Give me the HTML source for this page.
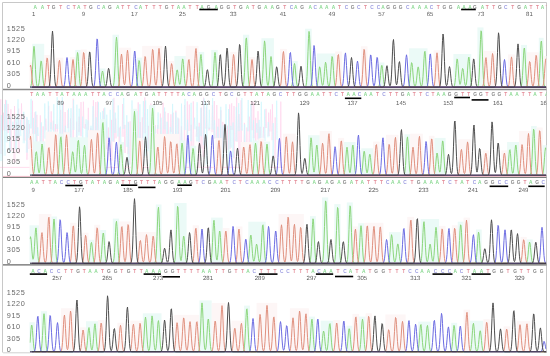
<!DOCTYPE html><html><head><meta charset="utf-8"><style>html,body{margin:0;padding:0;background:#fff;}svg{display:block;will-change:transform}</style></head><body>
<svg width="550" height="356" viewBox="0 0 550 356">
<rect width="550" height="356" fill="#fff"/>
<defs><clipPath id="tc"><rect x="29.5" y="0" width="517" height="356"/></clipPath></defs>
<g fill="none" stroke-width="1">
<path d="M2.5 2.5 H546.5 V353 M2.5 2.5 V352.5" stroke="#c8c8c8"/>
<path d="M3 89.6 H546.5" stroke="#8a8a8a" stroke-width="1.5"/>
<path d="M3 177.3 H546.5" stroke="#7a807c" stroke-width="1.2"/>
<path d="M3 264.9 H546.5" stroke="#686868" stroke-width="1.4"/>
<path d="M3 352.8 H30" stroke="#d0d0d0" stroke-width="1"/>
</g>
<g font-family="Liberation Sans" font-size="7.3" letter-spacing="0.6" fill="#6a6a6a" opacity="0.999">
<text x="6.8" y="87.60">0</text>
<text x="6.8" y="76.20">305</text>
<text x="6.8" y="64.80">610</text>
<text x="6.8" y="53.40">915</text>
<text x="6.8" y="42.00">1220</text>
<text x="6.8" y="30.60">1525</text>
</g>
<g clip-path="url(#tc)">
<rect x="27.5" y="62.5" width="4.8" height="24.6" fill="#fdf6f6"/>
<rect x="32.2" y="43.8" width="12.0" height="43.3" fill="#ebfaf7"/>
<rect x="44.2" y="55.0" width="5.6" height="32.1" fill="#fdf6f6"/>
<rect x="56.0" y="57.7" width="7.2" height="29.4" fill="#fdf6f6"/>
<rect x="70.0" y="57.0" width="5.3" height="30.1" fill="#fdf6f6"/>
<rect x="75.3" y="49.9" width="5.4" height="37.2" fill="#ebfaf7"/>
<rect x="80.7" y="49.5" width="6.0" height="37.6" fill="#fdf6f6"/>
<rect x="99.8" y="68.5" width="5.7" height="18.6" fill="#ebfaf7"/>
<rect x="112.5" y="34.7" width="6.5" height="52.4" fill="#ebfaf7"/>
<rect x="119.0" y="47.7" width="12.1" height="39.4" fill="#fdf6f6"/>
<rect x="136.9" y="57.6" width="5.2" height="29.5" fill="#ebfaf7"/>
<rect x="142.2" y="45.9" width="20.1" height="41.2" fill="#fdf6f6"/>
<rect x="168.6" y="61.0" width="5.8" height="26.1" fill="#fdf6f6"/>
<rect x="174.4" y="56.0" width="11.4" height="31.1" fill="#ebfaf7"/>
<rect x="185.8" y="45.9" width="12.7" height="41.2" fill="#fdf6f6"/>
<rect x="198.4" y="51.9" width="5.8" height="35.2" fill="#ebfaf7"/>
<rect x="211.2" y="49.9" width="6.5" height="37.2" fill="#ebfaf7"/>
<rect x="230.3" y="51.9" width="6.3" height="35.2" fill="#fdf6f6"/>
<rect x="243.0" y="34.7" width="6.2" height="52.4" fill="#ebfaf7"/>
<rect x="249.2" y="57.0" width="5.9" height="30.1" fill="#fdf6f6"/>
<rect x="261.4" y="38.2" width="12.5" height="48.9" fill="#ebfaf7"/>
<rect x="280.0" y="48.9" width="6.8" height="38.2" fill="#fdf6f6"/>
<rect x="292.4" y="61.0" width="5.4" height="26.1" fill="#ebfaf7"/>
<rect x="305.1" y="28.7" width="6.6" height="58.4" fill="#ebfaf7"/>
<rect x="316.9" y="53.5" width="18.4" height="33.6" fill="#ebfaf7"/>
<rect x="335.2" y="51.5" width="6.6" height="35.6" fill="#fdf6f6"/>
<rect x="360.9" y="46.3" width="6.6" height="40.8" fill="#fdf6f6"/>
<rect x="379.5" y="62.5" width="4.9" height="24.6" fill="#ebfaf7"/>
<rect x="409.1" y="48.3" width="18.4" height="38.8" fill="#ebfaf7"/>
<rect x="433.6" y="50.3" width="6.4" height="36.8" fill="#fdf6f6"/>
<rect x="453.4" y="54.0" width="17.9" height="33.1" fill="#ebfaf7"/>
<rect x="477.4" y="27.4" width="6.1" height="59.7" fill="#ebfaf7"/>
<rect x="483.5" y="50.9" width="12.1" height="36.2" fill="#fdf6f6"/>
<rect x="508.0" y="54.4" width="6.8" height="32.7" fill="#fdf6f6"/>
<rect x="521.1" y="44.9" width="5.9" height="42.2" fill="#ebfaf7"/>
<rect x="527.0" y="52.3" width="11.8" height="34.8" fill="#fdf6f6"/>
<rect x="538.8" y="37.8" width="4.8" height="49.3" fill="#ebfaf7"/>
<rect x="543.6" y="56.0" width="5.3" height="31.1" fill="#fdf6f6"/>
</g>
<g clip-path="url(#tc)" fill="none" stroke-width="1" stroke-linejoin="round">
<path d="M30.0 87.0L30.5 86.7L31.0 85.7L31.5 83.3L32.0 78.1L32.5 69.7L33.0 59.1L33.5 50.0L34.0 46.3L34.5 50.0L35.0 59.1L35.5 69.7L36.0 78.1L36.5 83.3L37.0 85.7L37.5 86.6L38.0 86.4L38.5 85.4L39.0 82.8L39.5 78.2L40.0 71.7L40.5 65.0L41.0 60.9L41.5 61.4L42.0 66.2L42.5 73.1L43.0 79.3L43.5 83.5L44.0 85.7L44.5 86.7L45.0 87.0L45.5 87.1L73.0 87.1L73.5 87.0L74.0 86.8L74.5 86.2L75.0 84.4L75.5 80.6L76.0 73.9L76.5 65.1L77.0 56.8L77.5 52.5L78.0 54.4L78.5 61.6L79.0 70.6L79.5 78.2L80.0 83.2L80.5 85.7L81.0 86.7L81.5 87.0L82.0 87.1L98.5 87.1L99.0 86.9L99.5 86.6L100.0 85.6L100.5 83.6L101.0 80.2L101.5 76.1L102.0 72.5L102.5 71.0L103.0 72.5L103.5 76.1L104.0 80.2L104.5 83.6L105.0 85.6L105.5 86.6L106.0 86.9L106.5 87.1L112.0 87.1L112.5 87.0L113.0 86.6L113.5 85.4L114.0 82.4L114.5 76.1L115.0 65.8L115.5 52.9L116.0 41.7L116.5 37.2L117.0 41.7L117.5 52.9L118.0 65.8L118.5 76.1L119.0 82.4L119.5 85.4L120.0 86.6L120.5 87.0L121.0 87.1L135.0 87.1L135.5 86.9L136.0 86.5L136.5 85.4L137.0 82.8L137.5 78.0L138.0 71.4L138.5 64.7L139.0 60.5L139.5 61.0L140.0 65.9L140.5 72.8L141.0 79.2L141.5 83.4L142.0 85.7L142.5 86.7L143.0 87.0L143.5 87.1L173.0 87.1L173.5 87.0L174.0 86.7L174.5 86.0L175.0 84.3L175.5 81.2L176.0 76.9L176.5 72.6L177.0 69.9L177.5 70.2L178.0 73.4L178.5 77.8L179.0 81.8L179.5 84.1L180.0 84.4L180.5 82.2L181.0 77.4L181.5 70.5L182.0 63.3L182.5 58.9L183.0 59.5L183.5 64.6L184.0 72.0L184.5 78.7L185.0 83.2L185.5 85.6L186.0 86.6L186.5 87.0L187.0 87.1L196.5 87.1L197.0 87.0L197.5 86.7L198.0 85.7L198.5 83.4L199.0 78.7L199.5 71.5L200.0 63.0L200.5 56.3L201.0 54.5L201.5 58.6L202.0 66.4L202.5 74.7L203.0 80.9L203.5 84.6L204.0 86.2L204.5 86.9L205.0 87.0L205.5 87.1L210.5 87.1L211.0 87.0L211.5 86.8L212.0 85.9L212.5 83.8L213.0 79.5L213.5 72.3L214.0 63.3L214.5 55.5L215.0 52.4L215.5 55.5L216.0 63.3L216.5 72.3L217.0 79.5L217.5 83.8L218.0 85.9L218.5 86.8L219.0 87.0L219.5 87.1L242.0 87.1L242.5 86.9L243.0 86.3L243.5 84.5L244.0 80.3L244.5 72.4L245.0 60.8L245.5 47.9L246.0 38.9L246.5 37.9L247.0 45.6L247.5 58.1L248.0 70.4L248.5 79.1L249.0 83.9L249.5 86.1L250.0 86.8L250.5 87.0L251.0 87.1L260.0 87.1L260.5 87.0L261.0 86.8L261.5 85.9L262.0 83.5L262.5 78.3L263.0 69.5L263.5 57.7L264.0 46.6L264.5 40.9L265.0 43.4L265.5 52.9L266.0 65.0L266.5 75.2L267.0 81.8L267.5 84.9L268.0 85.5L268.5 84.1L269.0 80.3L269.5 74.0L270.0 66.1L270.5 59.3L271.0 56.5L271.5 59.3L272.0 66.1L272.5 74.0L273.0 80.4L273.5 84.2L274.0 86.1L274.5 86.8L275.0 87.0L275.5 87.1L290.0 87.1L290.5 87.0L291.0 86.9L291.5 86.3L292.0 84.9L292.5 81.9L293.0 77.0L293.5 70.9L294.0 65.6L294.5 63.5L295.0 65.6L295.5 70.9L296.0 77.0L296.5 81.9L297.0 84.9L297.5 86.3L298.0 86.9L298.5 87.0L299.0 87.1L304.5 87.1L305.0 87.0L305.5 86.7L306.0 85.6L306.5 82.8L307.0 76.5L307.5 65.9L308.0 51.7L308.5 38.3L309.0 31.4L309.5 34.5L310.0 45.9L310.5 60.5L311.0 72.8L311.5 80.8L312.0 84.8L312.5 86.4L313.0 86.9L313.5 87.1L315.5 87.1L316.0 87.0L316.5 86.7L317.0 85.8L317.5 83.8L318.0 80.2L318.5 75.2L319.0 70.1L319.5 66.9L320.0 67.3L320.5 71.0L321.0 76.3L321.5 81.0L322.0 84.1L322.5 85.4L323.0 84.8L323.5 82.3L324.0 77.6L324.5 71.3L325.0 65.3L325.5 62.2L326.0 63.6L326.5 68.7L327.0 75.2L327.5 80.7L328.0 84.2L328.5 85.9L329.0 86.1L329.5 85.0L330.0 82.1L330.5 76.7L331.0 69.1L331.5 61.3L332.0 56.5L332.5 57.0L333.0 62.7L333.5 70.7L334.0 78.0L334.5 82.9L335.0 85.5L335.5 86.6L336.0 87.0L336.5 87.1L377.5 87.1L378.0 87.0L378.5 86.7L379.0 86.0L379.5 84.1L380.0 80.6L380.5 75.4L381.0 69.7L381.5 65.7L382.0 65.3L382.5 68.7L383.0 74.3L383.5 79.7L384.0 83.6L384.5 85.7L385.0 86.6L385.5 87.0L386.0 87.1L407.5 87.1L408.0 87.0L408.5 86.6L409.0 85.5L409.5 83.1L410.0 78.8L410.5 72.7L411.0 66.5L411.5 62.7L412.0 63.1L412.5 67.6L413.0 74.0L413.5 79.8L414.0 83.7L414.5 85.7L415.0 86.3L415.5 85.7L416.0 83.8L416.5 80.2L417.0 75.2L417.5 70.1L418.0 66.9L418.5 67.3L419.0 71.0L419.5 76.3L420.0 81.1L420.5 84.3L421.0 85.9L421.5 86.2L422.0 85.1L422.5 82.2L423.0 76.4L423.5 67.9L424.0 58.6L424.5 52.0L425.0 51.3L425.5 56.9L426.0 66.0L426.5 74.9L427.0 81.3L427.5 84.8L428.0 86.3L428.5 86.9L429.0 87.1L453.0 87.1L453.5 86.9L454.0 86.5L454.5 85.3L455.0 82.5L455.5 77.5L456.0 70.5L456.5 63.3L457.0 58.9L457.5 59.5L458.0 64.6L458.5 72.0L459.0 78.6L459.5 82.8L460.0 84.4L460.5 83.6L461.0 80.6L461.5 76.1L462.0 71.4L462.5 68.5L463.0 68.8L463.5 72.3L464.0 77.1L464.5 81.5L465.0 84.4L465.5 85.6L466.0 85.2L466.5 82.9L467.0 78.1L467.5 70.9L468.0 63.1L468.5 57.5L469.0 57.0L469.5 61.7L470.0 69.3L470.5 76.8L471.0 82.2L471.5 85.2L472.0 86.5L472.5 86.9L473.0 87.1L476.5 87.1L477.0 87.0L477.5 86.8L478.0 85.9L478.5 83.5L479.0 77.9L479.5 67.9L480.0 53.9L480.5 39.6L481.0 30.8L481.5 31.8L482.0 42.2L482.5 56.9L483.0 70.3L483.5 79.4L484.0 84.1L484.5 86.2L485.0 86.9L485.5 87.0L486.0 87.1L520.0 87.1L520.5 86.9L521.0 86.5L521.5 85.1L522.0 81.7L522.5 75.4L523.0 66.1L523.5 55.9L524.0 48.7L524.5 48.0L525.0 54.1L525.5 64.1L526.0 73.8L526.5 80.7L527.0 84.6L527.5 86.3L528.0 86.9L528.5 87.0L529.0 87.1L537.0 87.1L537.5 86.9L538.0 86.3L538.5 84.7L539.0 80.8L539.5 73.4L540.0 62.4L540.5 50.4L541.0 41.9L541.5 41.0L542.0 48.2L542.5 59.9L543.0 71.4L543.5 79.6L544.0 84.1L544.5 86.1L545.0 86.8L545.5 87.0L546.0 87.1" stroke="#8cd67c"/>
<path d="M30.0 67.0L30.5 65.0L31.0 67.0L31.5 72.0L32.0 77.7L32.5 82.2L33.0 85.0L33.5 86.4L34.0 86.9L34.5 87.0L35.0 87.1L43.0 87.1L43.5 86.9L44.0 86.5L44.5 85.2L45.0 82.4L45.5 77.2L46.0 69.9L46.5 62.5L47.0 57.9L47.5 58.5L48.0 63.9L48.5 71.5L49.0 78.4L49.5 83.1L50.0 85.6L50.5 86.6L51.0 87.0L51.5 87.1L55.0 87.1L55.5 87.0L56.0 86.8L56.5 86.0L57.0 84.1L57.5 80.2L58.0 74.3L58.5 67.3L59.0 61.8L59.5 60.3L60.0 63.6L60.5 70.1L61.0 76.9L61.5 82.0L62.0 85.0L62.5 86.4L63.0 86.9L63.5 87.1L68.5 87.1L69.0 87.0L69.5 86.8L70.0 86.2L70.5 84.5L71.0 81.0L71.5 75.3L72.0 68.2L72.5 62.0L73.0 59.5L73.5 62.0L74.0 68.2L74.5 75.3L75.0 81.0L75.5 84.5L76.0 86.2L76.5 86.8L77.0 87.0L77.5 87.1L79.5 87.1L80.0 86.9L80.5 86.4L81.0 84.9L81.5 81.5L82.0 75.3L82.5 66.7L83.0 57.9L83.5 52.5L84.0 53.2L84.5 59.5L85.0 68.6L85.5 76.8L86.0 82.3L86.5 85.3L87.0 86.5L87.5 87.0L88.0 87.1L117.0 87.1L117.5 87.0L118.0 86.8L118.5 86.0L119.0 84.0L119.5 79.8L120.0 73.0L120.5 64.4L121.0 57.0L121.5 54.0L122.0 57.0L122.5 64.4L123.0 72.9L123.5 79.7L124.0 83.6L124.5 84.8L125.0 83.3L125.5 78.9L126.0 71.3L126.5 61.8L127.0 53.5L127.5 50.2L128.0 53.5L128.5 61.8L129.0 71.3L129.5 79.0L130.0 83.6L130.5 85.9L131.0 86.7L131.5 87.0L132.0 87.1L141.0 87.1L141.5 86.9L142.0 86.5L142.5 85.1L143.0 82.1L143.5 76.7L144.0 69.1L144.5 61.3L145.0 56.5L145.5 57.0L146.0 62.7L146.5 70.7L147.0 78.0L147.5 82.9L148.0 85.5L148.5 86.5L149.0 86.8L149.5 86.3L150.0 84.7L150.5 81.0L151.0 74.3L151.5 64.9L152.0 55.3L152.5 49.4L153.0 50.1L153.5 57.0L154.0 66.9L154.5 75.8L155.0 81.8L155.5 84.7L156.0 85.2L156.5 83.3L157.0 78.5L157.5 70.6L158.0 60.6L158.5 51.9L159.0 48.4L159.5 51.9L160.0 60.6L160.5 70.6L161.0 78.6L161.5 83.5L162.0 85.8L162.5 86.7L163.0 87.0L163.5 87.1L167.5 87.1L168.0 86.9L168.5 86.5L169.0 85.3L169.5 82.6L170.0 78.1L170.5 72.2L171.0 66.5L171.5 63.6L172.0 64.9L172.5 69.7L173.0 75.9L173.5 81.1L174.0 84.4L174.5 86.1L175.0 86.8L175.5 87.0L176.0 87.1L184.5 87.1L185.0 87.0L185.5 86.6L186.0 85.7L186.5 83.3L187.0 78.9L187.5 72.3L188.0 65.1L188.5 60.0L189.0 59.5L189.5 63.8L190.0 70.9L190.5 77.7L191.0 82.6L191.5 85.3L192.0 86.4L192.5 86.5L193.0 85.5L193.5 82.7L194.0 77.2L194.5 68.7L195.0 58.6L195.5 50.7L196.0 48.5L196.5 53.3L197.0 62.6L197.5 72.4L198.0 79.8L198.5 84.1L199.0 86.1L199.5 86.8L200.0 87.0L200.5 87.1L229.0 87.1L229.5 87.0L230.0 86.9L230.5 86.2L231.0 84.6L231.5 80.9L232.0 74.7L232.5 66.4L233.0 58.6L233.5 54.5L234.0 56.3L234.5 63.0L235.0 71.5L235.5 78.7L236.0 83.4L236.5 85.7L237.0 86.7L237.5 87.0L238.0 87.1L247.5 87.1L248.0 87.0L248.5 86.8L249.0 86.2L249.5 84.5L250.0 81.0L250.5 75.3L251.0 68.2L251.5 62.0L252.0 59.5L252.5 62.0L253.0 68.2L253.5 75.3L254.0 81.0L254.5 84.5L255.0 86.2L255.5 86.8L256.0 87.0L256.5 87.1L279.0 87.1L279.5 87.0L280.0 86.6L280.5 85.6L281.0 83.1L281.5 78.0L282.0 70.1L282.5 60.8L283.0 53.5L283.5 51.5L284.0 55.9L284.5 64.5L285.0 73.5L285.5 80.4L286.0 84.3L286.5 86.2L287.0 86.8L287.5 87.0L288.0 87.1L334.0 87.1L334.5 87.0L335.0 86.6L335.5 85.4L336.0 82.6L336.5 77.4L337.0 69.6L337.5 61.1L338.0 55.1L338.5 54.5L339.0 59.6L339.5 67.9L340.0 76.0L340.5 81.8L341.0 85.0L341.5 86.4L342.0 86.9L342.5 87.1L360.0 87.1L360.5 86.9L361.0 86.3L361.5 84.7L362.0 81.0L362.5 74.3L363.0 64.9L363.5 55.3L364.0 49.4L364.5 50.1L365.0 57.0L365.5 66.9L366.0 75.8L366.5 81.9L367.0 85.1L367.5 86.5L368.0 86.9L368.5 87.1L432.5 87.1L433.0 87.0L433.5 86.8L434.0 86.0L434.5 83.9L435.0 79.5L435.5 72.4L436.0 63.6L436.5 55.9L437.0 52.8L437.5 55.9L438.0 63.6L438.5 72.4L439.0 79.5L439.5 83.9L440.0 86.0L440.5 86.8L441.0 87.0L441.5 87.1L481.5 87.1L482.0 87.0L482.5 86.7L483.0 85.9L483.5 83.7L484.0 79.5L484.5 73.0L485.0 65.3L485.5 59.2L486.0 57.6L486.5 61.3L487.0 68.4L487.5 75.9L488.0 81.5L488.5 84.7L489.0 86.1L489.5 86.0L490.0 84.4L490.5 80.7L491.0 74.3L491.5 65.8L492.0 57.7L492.5 53.5L493.0 55.4L493.5 62.3L494.0 71.0L494.5 78.5L495.0 83.3L495.5 85.7L496.0 86.7L496.5 87.0L497.0 87.1L507.0 87.1L507.5 87.0L508.0 86.8L508.5 86.1L509.0 84.3L509.5 80.4L510.0 74.2L510.5 66.4L511.0 59.6L511.5 56.9L512.0 59.6L512.5 66.4L513.0 74.2L513.5 80.4L514.0 84.3L514.5 86.1L515.0 86.8L515.5 87.0L516.0 87.1L525.5 87.1L526.0 87.0L526.5 86.6L527.0 85.4L527.5 82.9L528.0 78.4L528.5 72.0L529.0 65.5L529.5 61.5L530.0 62.0L530.5 66.7L531.0 73.4L531.5 79.5L532.0 83.5L532.5 85.6L533.0 86.0L533.5 84.9L534.0 81.9L534.5 76.3L535.0 68.4L535.5 60.3L536.0 55.3L536.5 55.9L537.0 61.7L537.5 70.1L538.0 77.6L538.5 82.7L539.0 85.4L539.5 86.6L540.0 87.0L540.5 87.1L541.5 87.1L542.0 87.0L542.5 86.7L543.0 85.9L543.5 83.9L544.0 79.8L544.5 73.5L545.0 66.0L545.5 60.2L546.0 58.6" stroke="#e0907e"/>
<path d="M30.0 87.1L62.5 87.1L63.0 87.0L63.5 86.8L64.0 86.1L64.5 84.3L65.0 80.6L65.5 74.5L66.0 66.8L66.5 60.2L67.0 57.5L67.5 60.2L68.0 66.8L68.5 74.5L69.0 80.6L69.5 84.3L70.0 86.1L70.5 86.8L71.0 87.0L71.5 87.1L92.5 87.1L93.0 87.0L93.5 86.8L94.0 86.1L94.5 84.0L95.0 79.3L95.5 70.7L96.0 58.7L96.5 46.5L97.0 38.9L97.5 39.8L98.0 48.7L98.5 61.3L99.0 72.7L99.5 80.5L100.0 84.6L100.5 86.3L101.0 86.9L101.5 87.1L130.5 87.1L131.0 86.9L131.5 86.3L132.0 84.8L132.5 81.2L133.0 74.8L133.5 65.8L134.0 56.6L134.5 51.0L135.0 51.6L135.5 58.3L136.0 67.7L136.5 76.3L137.0 82.1L137.5 85.2L138.0 86.5L138.5 86.9L139.0 87.1L286.0 87.1L286.5 87.0L287.0 86.5L287.5 85.3L288.0 82.3L288.5 76.8L289.0 68.6L289.5 59.5L290.0 53.2L290.5 52.5L291.0 57.9L291.5 66.7L292.0 75.3L292.5 81.5L293.0 84.9L293.5 86.4L294.0 86.9L294.5 87.1L309.5 87.1L310.0 87.0L310.5 86.8L311.0 86.0L311.5 83.9L312.0 79.2L312.5 71.2L313.0 60.6L313.5 50.6L314.0 45.5L314.5 47.8L315.0 56.3L315.5 67.2L316.0 76.4L316.5 82.4L317.0 85.4L317.5 86.6L318.0 87.0L318.5 87.1L341.0 87.1L341.5 87.0L342.0 86.7L342.5 85.7L343.0 83.2L343.5 78.3L344.0 70.8L344.5 61.8L345.0 54.8L345.5 52.9L346.0 57.2L346.5 65.4L347.0 74.1L347.5 80.6L348.0 84.4L348.5 86.2L349.0 86.8L349.5 87.0L350.0 87.1L353.0 87.1L353.5 87.0L354.0 86.8L354.5 86.2L355.0 84.7L355.5 81.4L356.0 76.0L356.5 69.3L357.0 63.4L357.5 61.1L358.0 63.4L358.5 69.3L359.0 76.0L359.5 81.4L360.0 84.7L360.5 86.2L361.0 86.8L361.5 87.0L362.0 87.1L366.5 87.1L367.0 86.9L367.5 86.4L368.0 85.0L368.5 81.9L369.0 76.1L369.5 68.1L370.0 59.9L370.5 54.9L371.0 55.5L371.5 61.4L372.0 69.8L372.5 77.5L373.0 82.6L373.5 85.2L374.0 85.9L374.5 85.0L375.0 82.2L375.5 77.0L376.0 69.6L376.5 62.0L377.0 57.4L377.5 57.9L378.0 63.4L378.5 71.2L379.0 78.2L379.5 83.0L380.0 85.5L380.5 86.6L381.0 87.0L381.5 87.1L402.0 87.1L402.5 87.0L403.0 86.8L403.5 86.0L404.0 84.1L404.5 80.0L405.0 73.3L405.5 65.0L406.0 57.7L406.5 54.8L407.0 57.7L407.5 65.0L408.0 73.3L408.5 80.0L409.0 84.1L409.5 86.0L410.0 86.8L410.5 87.0L411.0 87.1L426.0 87.1L426.5 87.0L427.0 86.6L427.5 85.4L428.0 82.5L428.5 77.2L429.0 69.3L429.5 60.6L430.0 54.5L430.5 53.9L431.0 59.1L431.5 67.5L432.0 75.8L432.5 81.7L433.0 85.0L433.5 86.4L434.0 86.9L434.5 87.1L500.0 87.1L500.5 87.0L501.0 86.8L501.5 86.2L502.0 84.5L502.5 81.0L503.0 75.3L503.5 68.2L504.0 62.0L504.5 59.5L505.0 62.0L505.5 68.2L506.0 75.3L506.5 81.0L507.0 84.5L507.5 86.2L508.0 86.8L508.5 87.0L509.0 87.1L546.0 87.1" stroke="#6c6ce2"/>
<path d="M30.0 87.1L48.0 87.1L48.5 87.0L49.0 86.6L49.5 85.2L50.0 81.8L50.5 74.7L51.0 63.1L51.5 48.7L52.0 36.1L52.5 31.0L53.0 36.1L53.5 48.7L54.0 63.1L54.5 74.7L55.0 81.8L55.5 85.2L56.0 86.6L56.5 87.0L57.0 87.1L85.5 87.1L86.0 86.9L86.5 86.4L87.0 84.8L87.5 81.4L88.0 75.1L88.5 66.4L89.0 57.4L89.5 51.9L90.0 52.6L90.5 59.1L91.0 68.3L91.5 76.6L92.0 82.3L92.5 85.3L93.0 86.5L93.5 86.9L94.0 87.1L104.5 87.1L105.0 87.0L105.5 86.6L106.0 85.6L106.5 83.5L107.0 79.9L107.5 75.1L108.0 70.6L108.5 68.3L109.0 69.3L109.5 73.2L110.0 78.1L110.5 82.3L111.0 85.0L111.5 86.3L112.0 86.9L112.5 87.0L113.0 87.1L161.0 87.1L161.5 87.0L162.0 86.7L162.5 85.7L163.0 83.2L163.5 78.0L164.0 69.5L164.5 58.9L165.0 49.7L165.5 46.0L166.0 49.7L166.5 58.9L167.0 69.5L167.5 78.0L168.0 83.2L168.5 85.7L169.0 86.7L169.5 87.0L170.0 87.1L203.0 87.1L203.5 87.0L204.0 86.9L204.5 86.4L205.0 85.1L205.5 82.6L206.0 78.8L206.5 74.2L207.0 70.6L207.5 69.7L208.0 71.8L208.5 76.0L209.0 80.5L209.5 83.8L210.0 85.7L210.5 86.6L211.0 87.0L211.5 87.1L216.0 87.1L216.5 87.0L217.0 86.6L217.5 85.4L218.0 82.6L218.5 77.4L219.0 69.7L219.5 61.3L220.0 55.3L220.5 54.7L221.0 59.8L221.5 68.0L222.0 76.1L222.5 81.8L223.0 84.9L223.5 86.1L224.0 85.9L224.5 84.0L225.0 79.7L225.5 72.2L226.0 62.4L226.5 53.0L227.0 48.1L227.5 50.3L228.0 58.3L228.5 68.5L229.0 77.1L229.5 82.7L230.0 85.5L230.5 86.6L231.0 87.0L231.5 87.1L235.0 87.1L235.5 87.0L236.0 86.9L236.5 86.2L237.0 84.4L237.5 80.2L238.0 72.6L238.5 62.0L239.0 51.2L239.5 44.5L240.0 45.3L240.5 53.2L241.0 64.3L241.5 74.4L242.0 81.3L242.5 84.9L243.0 86.4L243.5 86.9L244.0 87.1L253.5 87.1L254.0 87.0L254.5 86.8L255.0 86.1L255.5 84.3L256.0 80.3L256.5 73.4L257.0 64.3L257.5 55.6L258.0 51.1L258.5 53.1L259.0 60.5L259.5 69.9L260.0 77.9L260.5 83.0L261.0 85.6L261.5 86.6L262.0 87.0L262.5 87.1L272.5 87.1L273.0 87.0L273.5 86.7L274.0 85.8L274.5 83.8L275.0 80.2L275.5 75.2L276.0 70.1L276.5 66.9L277.0 67.3L277.5 71.0L278.0 76.3L278.5 81.1L279.0 84.3L279.5 86.0L280.0 86.8L280.5 87.0L281.0 87.1L297.0 87.1L297.5 86.9L298.0 86.4L298.5 85.1L299.0 82.5L299.5 78.2L300.0 72.8L300.5 68.1L301.0 66.2L301.5 68.1L302.0 72.8L302.5 78.2L303.0 82.5L303.5 85.1L304.0 86.4L304.5 86.9L305.0 87.1L347.0 87.1L347.5 87.0L348.0 86.8L348.5 86.1L349.0 84.3L349.5 80.6L350.0 74.5L350.5 66.8L351.0 60.2L351.5 57.5L352.0 60.2L352.5 66.8L353.0 74.5L353.5 80.6L354.0 84.3L354.5 86.1L355.0 86.8L355.5 87.0L356.0 87.1L382.5 87.1L383.0 87.0L383.5 86.8L384.0 86.2L384.5 84.7L385.0 81.6L385.5 76.9L386.0 71.3L386.5 66.9L387.0 65.7L387.5 68.3L388.0 73.5L388.5 78.9L389.0 83.0L389.5 85.3L390.0 85.9L390.5 85.0L391.0 81.6L391.5 74.9L392.0 64.3L392.5 51.9L393.0 42.1L393.5 39.5L394.0 45.4L394.5 56.8L395.0 68.9L395.5 78.0L396.0 83.1L396.5 84.8L397.0 83.8L397.5 80.5L398.0 74.9L398.5 68.3L399.0 63.0L399.5 61.6L400.0 64.8L400.5 70.9L401.0 77.4L401.5 82.3L402.0 85.1L402.5 86.4L403.0 86.9L403.5 87.1L438.5 87.1L439.0 87.0L439.5 86.7L440.0 85.7L440.5 83.0L441.0 77.0L441.5 66.9L442.0 53.4L442.5 40.6L443.0 34.0L443.5 36.9L444.0 47.9L444.5 61.7L445.0 73.5L445.5 81.0L446.0 84.7L446.5 85.7L447.0 85.0L447.5 82.5L448.0 78.3L448.5 73.1L449.0 68.4L449.5 66.6L450.0 68.4L450.5 73.1L451.0 78.3L451.5 82.6L452.0 85.2L452.5 86.4L453.0 86.9L453.5 87.1L469.5 87.1L470.0 86.9L470.5 86.5L471.0 85.3L471.5 82.5L472.0 77.5L472.5 70.5L473.0 63.3L473.5 58.9L474.0 59.5L474.5 64.6L475.0 72.0L475.5 78.7L476.0 83.2L476.5 85.6L477.0 86.6L477.5 87.0L478.0 87.1L494.0 87.1L494.5 87.0L495.0 86.7L495.5 85.7L496.0 82.9L496.5 76.8L497.0 66.4L497.5 52.6L498.0 39.5L498.5 32.8L499.0 35.8L499.5 47.0L500.0 61.1L500.5 73.2L501.0 80.9L501.5 84.8L502.0 86.4L502.5 86.9L503.0 87.1L513.5 87.1L514.0 87.0L514.5 86.7L515.0 85.7L515.5 83.0L516.0 77.6L516.5 68.6L517.0 57.5L517.5 47.8L518.0 43.9L518.5 47.8L519.0 57.5L519.5 68.6L520.0 77.6L520.5 83.0L521.0 85.7L521.5 86.7L522.0 87.0L522.5 87.1L546.0 87.1" stroke="#4e4e4e"/>
</g>
<path d="M32 87.10H546.3" stroke="#402a4a" stroke-width="1.1"/>
<g clip-path="url(#tc)" font-family="Liberation Sans" font-size="4.8" font-weight="bold" text-anchor="middle">
<text x="35.2" y="8.55" fill="#88d890">A</text>
<text x="42.4" y="8.55" fill="#88d890">A</text>
<text x="48.4" y="8.55" fill="#e48c98">T</text>
<text x="53.7" y="8.55" fill="#888888">G</text>
<text x="60.6" y="8.55" fill="#e48c98">T</text>
<text x="68.2" y="8.55" fill="#9c9ce0">C</text>
<text x="74.2" y="8.55" fill="#e48c98">T</text>
<text x="78.8" y="8.55" fill="#88d890">A</text>
<text x="84.9" y="8.55" fill="#e48c98">T</text>
<text x="90.9" y="8.55" fill="#888888">G</text>
<text x="98.4" y="8.55" fill="#9c9ce0">C</text>
<text x="103.7" y="8.55" fill="#88d890">A</text>
<text x="109.8" y="8.55" fill="#888888">G</text>
<text x="117.7" y="8.55" fill="#88d890">A</text>
<text x="122.7" y="8.55" fill="#e48c98">T</text>
<text x="128.7" y="8.55" fill="#e48c98">T</text>
<text x="135.9" y="8.55" fill="#9c9ce0">C</text>
<text x="140.4" y="8.55" fill="#88d890">A</text>
<text x="146.4" y="8.55" fill="#e48c98">T</text>
<text x="153.9" y="8.55" fill="#e48c98">T</text>
<text x="160.2" y="8.55" fill="#e48c98">T</text>
<text x="166.7" y="8.55" fill="#888888">G</text>
<text x="172.8" y="8.55" fill="#e48c98">T</text>
<text x="178.4" y="8.55" fill="#88d890">A</text>
<text x="183.9" y="8.55" fill="#88d890">A</text>
<text x="190.0" y="8.55" fill="#e48c98">T</text>
<text x="197.1" y="8.55" fill="#e48c98">T</text>
<text x="202.1" y="8.55" fill="#88d890">A</text>
<text x="208.6" y="8.55" fill="#888888">G</text>
<text x="216.2" y="8.55" fill="#88d890">A</text>
<text x="221.5" y="8.55" fill="#888888">G</text>
<text x="228.3" y="8.55" fill="#888888">G</text>
<text x="234.8" y="8.55" fill="#e48c98">T</text>
<text x="240.9" y="8.55" fill="#888888">G</text>
<text x="247.5" y="8.55" fill="#88d890">A</text>
<text x="253.2" y="8.55" fill="#e48c98">T</text>
<text x="259.3" y="8.55" fill="#888888">G</text>
<text x="265.8" y="8.55" fill="#88d890">A</text>
<text x="272.2" y="8.55" fill="#88d890">A</text>
<text x="277.9" y="8.55" fill="#888888">G</text>
<text x="284.6" y="8.55" fill="#e48c98">T</text>
<text x="291.5" y="8.55" fill="#9c9ce0">C</text>
<text x="295.7" y="8.55" fill="#88d890">A</text>
<text x="302.2" y="8.55" fill="#888888">G</text>
<text x="310.3" y="8.55" fill="#88d890">A</text>
<text x="315.3" y="8.55" fill="#9c9ce0">C</text>
<text x="320.9" y="8.55" fill="#88d890">A</text>
<text x="326.8" y="8.55" fill="#88d890">A</text>
<text x="333.4" y="8.55" fill="#88d890">A</text>
<text x="339.5" y="8.55" fill="#e48c98">T</text>
<text x="346.6" y="8.55" fill="#9c9ce0">C</text>
<text x="352.7" y="8.55" fill="#888888">G</text>
<text x="358.7" y="8.55" fill="#9c9ce0">C</text>
<text x="365.4" y="8.55" fill="#e48c98">T</text>
<text x="371.9" y="8.55" fill="#9c9ce0">C</text>
<text x="378.4" y="8.55" fill="#9c9ce0">C</text>
<text x="383.0" y="8.55" fill="#88d890">A</text>
<text x="388.1" y="8.55" fill="#888888">G</text>
<text x="394.6" y="8.55" fill="#888888">G</text>
<text x="400.6" y="8.55" fill="#888888">G</text>
<text x="407.7" y="8.55" fill="#9c9ce0">C</text>
<text x="412.9" y="8.55" fill="#88d890">A</text>
<text x="419.4" y="8.55" fill="#88d890">A</text>
<text x="426.0" y="8.55" fill="#88d890">A</text>
<text x="431.5" y="8.55" fill="#9c9ce0">C</text>
<text x="438.2" y="8.55" fill="#e48c98">T</text>
<text x="444.3" y="8.55" fill="#888888">G</text>
<text x="450.7" y="8.55" fill="#888888">G</text>
<text x="458.4" y="8.55" fill="#88d890">A</text>
<text x="463.9" y="8.55" fill="#88d890">A</text>
<text x="470.0" y="8.55" fill="#88d890">A</text>
<text x="474.9" y="8.55" fill="#888888">G</text>
<text x="482.4" y="8.55" fill="#88d890">A</text>
<text x="487.1" y="8.55" fill="#e48c98">T</text>
<text x="493.8" y="8.55" fill="#e48c98">T</text>
<text x="499.8" y="8.55" fill="#888888">G</text>
<text x="505.7" y="8.55" fill="#9c9ce0">C</text>
<text x="512.7" y="8.55" fill="#e48c98">T</text>
<text x="519.2" y="8.55" fill="#888888">G</text>
<text x="525.5" y="8.55" fill="#88d890">A</text>
<text x="530.9" y="8.55" fill="#e48c98">T</text>
<text x="537.4" y="8.55" fill="#e48c98">T</text>
<text x="542.5" y="8.55" fill="#88d890">A</text>
<text x="547.1" y="8.55" fill="#e48c98">T</text>
</g>
<g clip-path="url(#tc)" font-family="Liberation Sans" font-size="6" text-anchor="middle" fill="#585858" style="text-rendering:geometricPrecision">
<text x="33.7" y="15.90">1</text>
<text x="83.4" y="15.90">9</text>
<text x="134.4" y="15.90">17</text>
<text x="182.4" y="15.90">25</text>
<text x="233.3" y="15.90">33</text>
<text x="283.1" y="15.90">41</text>
<text x="331.9" y="15.90">49</text>
<text x="381.5" y="15.90">57</text>
<text x="430.0" y="15.90">65</text>
<text x="480.9" y="15.90">73</text>
<text x="529.4" y="15.90">81</text>
</g>
<rect x="199.3" y="8.70" width="18.5" height="1.6" fill="#000"/>
<rect x="461.1" y="8.70" width="14.7" height="1.6" fill="#000"/>
<g fill="none" stroke-width="0.6" opacity="0.42"><path d="M0.2 154.0L0.8 99.2L1.4 154.0M3.0 130.3L3.6 112.7L4.2 130.3M4.9 130.8L5.5 99.8L6.1 130.8M7.4 133.0L8.0 103.9L8.6 133.0M10.3 151.1L10.9 109.3L11.5 151.1M13.9 162.3L14.5 106.0L15.1 162.3M16.0 140.3L16.6 122.3L17.2 140.3M18.1 153.6L18.7 108.5L19.3 153.6M20.9 130.4L21.5 103.4L22.1 130.4M23.9 140.6L24.5 115.2L25.1 140.6M26.5 159.8L27.1 118.7L27.7 159.8M28.8 149.0L29.4 124.1L30.0 149.0M31.9 167.2L32.5 100.7L33.1 167.2M34.4 134.1L35.0 112.2L35.6 134.1M36.3 158.6L36.9 114.8L37.5 158.6M39.7 155.8L40.3 115.4L40.9 155.8M42.5 161.6L43.1 126.3L43.7 161.6M45.2 130.4L45.8 118.7L46.4 130.4M48.1 160.9L48.7 105.8L49.3 160.9M50.6 128.9L51.2 111.3L51.8 128.9M52.7 130.4L53.3 120.8L53.9 130.4M54.8 143.6L55.4 124.0L56.0 143.6M56.7 150.0L57.3 124.4L57.9 150.0M60.0 139.1L60.6 109.9L61.2 139.1M62.4 166.3L63.0 101.7L63.6 166.3M64.5 137.3L65.1 112.0L65.7 137.3M67.4 128.2L68.0 110.0L68.6 128.2M69.9 166.1L70.5 118.4L71.1 166.1M72.6 155.0L73.2 98.7L73.8 155.0M76.0 163.0L76.6 121.7L77.2 163.0M78.5 132.1L79.1 116.7L79.7 132.1M80.4 136.4L81.0 102.0L81.6 136.4M82.8 128.0L83.4 101.7L84.0 128.0M84.8 129.0L85.4 124.1L86.0 129.0M87.7 138.1L88.3 107.8L88.9 138.1M90.2 162.0L90.8 127.8L91.4 162.0M92.8 131.4L93.4 100.2L94.0 131.4M95.2 161.2L95.8 102.0L96.4 161.2M97.1 149.1L97.7 101.5L98.3 149.1M99.9 149.1L100.5 127.3L101.1 149.1M103.2 138.4L103.8 108.4L104.4 138.4M105.3 149.3L105.9 121.2L106.5 149.3M107.7 160.5L108.3 127.5L108.9 160.5M111.0 160.7L111.6 119.9L112.2 160.7M113.3 142.2L113.9 97.9L114.5 142.2M115.1 138.4L115.7 118.5L116.3 138.4M118.6 165.5L119.2 127.6L119.8 165.5M122.1 136.8L122.7 104.0L123.3 136.8M124.3 153.0L124.9 124.9L125.5 153.0M127.6 154.1L128.2 121.8L128.8 154.1M129.6 164.4L130.2 121.3L130.8 164.4M132.7 135.1L133.3 121.5L133.9 135.1M135.1 166.9L135.7 109.3L136.3 166.9M137.6 157.0L138.2 102.3L138.8 157.0M139.7 164.2L140.3 122.0L140.9 164.2M141.7 167.2L142.3 117.4L142.9 167.2M144.2 133.2L144.8 97.4L145.4 133.2M147.7 149.1L148.3 125.9L148.9 149.1M150.3 161.0L150.9 103.5L151.5 161.0M152.5 137.6L153.1 115.2L153.7 137.6M154.8 133.2L155.4 125.2L156.0 133.2M157.2 151.3L157.8 125.0L158.4 151.3M159.8 148.1L160.4 113.5L161.0 148.1M162.5 145.6L163.1 102.7L163.7 145.6M164.4 134.9L165.0 111.7L165.6 134.9M167.5 141.0L168.1 113.1L168.7 141.0M170.3 132.2L170.9 114.4L171.5 132.2M172.5 158.9L173.1 112.7L173.7 158.9M175.3 164.5L175.9 110.7L176.5 164.5M178.2 148.5L178.8 118.5L179.4 148.5M180.8 147.1L181.4 126.2L182.0 147.1M183.9 165.7L184.5 105.0L185.1 165.7M186.7 161.6L187.3 101.3L187.9 161.6M188.7 130.9L189.3 104.5L189.9 130.9M190.6 159.4L191.2 124.8L191.8 159.4M192.7 154.4L193.3 101.4L193.9 154.4M196.1 136.8L196.7 126.5L197.3 136.8M198.6 167.6L199.2 122.8L199.8 167.6M200.7 148.6L201.3 107.5L201.9 148.6M202.9 156.9L203.5 97.6L204.1 156.9M205.7 128.7L206.3 107.3L206.9 128.7M208.6 130.6L209.2 127.5L209.8 130.6M211.8 132.2L212.4 105.2L213.0 132.2M213.7 138.8L214.3 101.0L214.9 138.8M216.2 160.8L216.8 105.0L217.4 160.8M218.3 150.8L218.9 118.7L219.5 150.8M220.3 155.5L220.9 110.2L221.5 155.5M222.2 153.4L222.8 121.9L223.4 153.4M224.2 130.7L224.8 123.7L225.4 130.7M226.8 150.1L227.4 125.7L228.0 150.1M229.1 149.1L229.7 104.4L230.3 149.1M231.1 130.0L231.7 103.3L232.3 130.0M233.4 158.4L234.0 106.0L234.6 158.4M236.1 141.9L236.7 97.6L237.3 141.9M238.4 157.3L239.0 114.1L239.6 157.3M240.5 165.4L241.1 100.3L241.7 165.4M243.8 147.8L244.4 122.9L245.0 147.8M246.3 155.5L246.9 127.5L247.5 155.5M248.7 156.3L249.3 116.7L249.9 156.3M251.2 130.2L251.8 101.0L252.4 130.2M253.2 138.2L253.8 102.1L254.4 138.2M255.1 162.8L255.7 117.8L256.3 162.8M257.4 139.7L258.0 111.2L258.6 139.7M259.5 138.5L260.1 126.8L260.7 138.5M263.1 137.8L263.7 126.9L264.3 137.8M265.4 128.0L266.0 108.8L266.6 128.0M268.1 136.0L268.7 112.6L269.3 136.0M269.9 131.6L270.5 109.4L271.1 131.6M271.8 140.2L272.4 104.2L273.0 140.2M274.6 158.0L275.2 117.4L275.8 158.0M280.2 167.4L280.8 101.6L281.4 167.4" stroke="#ff90d0"/><path d="M0.7 161.1L1.3 115.1L1.9 161.1M4.1 155.7L4.7 104.1L5.3 155.7M6.0 142.4L6.6 100.3L7.2 142.4M9.3 153.1L9.9 116.4L10.5 153.1M12.3 128.1L12.9 121.7L13.5 128.1M15.5 149.4L16.1 117.4L16.7 149.4M17.4 138.1L18.0 99.3L18.6 138.1M19.7 136.2L20.3 119.9L20.9 136.2M23.2 143.3L23.8 111.8L24.4 143.3M26.3 152.7L26.9 116.9L27.5 152.7M28.2 138.2L28.8 120.0L29.4 138.2M30.5 128.5L31.1 98.9L31.7 128.5M32.8 155.7L33.4 117.9L34.0 155.7M35.2 146.6L35.8 111.5L36.4 146.6M37.2 136.0L37.8 127.3L38.4 136.0M40.7 146.4L41.3 122.4L41.9 146.4M44.2 138.7L44.8 103.5L45.4 138.7M47.7 151.3L48.3 101.4L48.9 151.3M50.4 133.3L51.0 122.4L51.6 133.3M53.2 156.1L53.8 104.2L54.4 156.1M56.6 129.0L57.2 97.1L57.8 129.0M59.3 140.1L59.9 101.4L60.5 140.1M61.7 161.6L62.3 97.1L62.9 161.6M64.8 132.8L65.4 125.7L66.0 132.8M67.9 139.6L68.5 108.5L69.1 139.6M70.4 151.6L71.0 108.2L71.6 151.6M73.0 129.9L73.6 100.2L74.2 129.9M76.3 165.4L76.9 104.7L77.5 165.4M78.6 135.6L79.2 108.6L79.8 135.6M82.1 160.5L82.7 116.6L83.3 160.5M85.5 150.0L86.1 119.3L86.7 150.0M87.4 146.0L88.0 120.3L88.6 146.0M90.4 130.0L91.0 125.7L91.6 130.0M92.4 141.7L93.0 106.2L93.6 141.7M95.5 138.4L96.1 117.3L96.7 138.4M97.9 143.8L98.5 102.2L99.1 143.8M100.0 164.2L100.6 112.4L101.2 164.2M102.2 167.9L102.8 110.9L103.4 167.9M104.2 131.6L104.8 107.6L105.4 131.6M106.2 138.3L106.8 114.7L107.4 138.3M109.6 144.5L110.2 109.8L110.8 144.5M112.3 141.5L112.9 98.9L113.5 141.5M114.6 133.0L115.2 112.6L115.8 133.0M117.6 136.6L118.2 105.4L118.8 136.6M119.8 145.8L120.4 126.6L121.0 145.8M123.1 128.9L123.7 98.0L124.3 128.9M126.2 146.9L126.8 115.2L127.4 146.9M128.0 165.1L128.6 122.6L129.2 165.1M131.4 137.9L132.0 100.4L132.6 137.9M133.4 155.3L134.0 126.2L134.6 155.3M136.5 158.6L137.1 111.2L137.7 158.6M139.3 159.3L139.9 104.2L140.5 159.3M142.8 140.2L143.4 101.0L144.0 140.2M145.0 155.9L145.6 100.5L146.2 155.9M147.0 151.3L147.6 109.0L148.2 151.3M149.2 128.4L149.8 106.3L150.4 128.4M151.8 153.8L152.4 124.4L153.0 153.8M154.4 137.9L155.0 126.8L155.6 137.9M157.5 128.9L158.1 112.4L158.7 128.9M160.5 138.3L161.1 117.7L161.7 138.3M164.0 129.4L164.6 107.5L165.2 129.4M166.5 135.9L167.1 121.7L167.7 135.9M169.7 136.2L170.3 127.1L170.9 136.2M172.0 137.2L172.6 103.9L173.2 137.2M175.2 166.1L175.8 112.4L176.4 166.1M177.3 144.7L177.9 117.6L178.5 144.7M180.9 143.7L181.5 103.6L182.1 143.7M184.4 130.1L185.0 98.9L185.6 130.1M186.9 163.3L187.5 119.7L188.1 163.3M190.5 141.2L191.1 102.8L191.7 141.2M194.0 129.3L194.6 117.6L195.2 129.3M196.5 141.3L197.1 102.2L197.7 141.3M198.3 142.1L198.9 126.6L199.5 142.1M200.3 136.3L200.9 108.1L201.5 136.3M203.6 145.3L204.2 98.5L204.8 145.3M206.2 164.8L206.8 103.0L207.4 164.8M208.7 129.2L209.3 109.7L209.9 129.2M212.0 129.6L212.6 98.1L213.2 129.6M213.9 138.3L214.5 120.2L215.1 138.3M217.3 138.9L217.9 126.7L218.5 138.9M220.2 156.7L220.8 106.8L221.4 156.7M222.5 158.2L223.1 125.4L223.7 158.2M225.4 129.0L226.0 104.2L226.6 129.0M228.1 166.2L228.7 109.0L229.3 166.2M230.3 147.7L230.9 125.8L231.5 147.7M232.5 157.5L233.1 122.5L233.7 157.5M235.7 141.1L236.3 106.9L236.9 141.1M238.1 131.2L238.7 103.1L239.3 131.2M241.3 130.6L241.9 98.0L242.5 130.6M244.1 167.2L244.7 124.4L245.3 167.2M247.6 131.4L248.2 100.0L248.8 131.4M250.3 145.9L250.9 104.3L251.5 145.9M252.9 155.0L253.5 120.2L254.1 155.0M256.2 132.8L256.8 123.1L257.4 132.8M258.5 142.9L259.1 119.9L259.7 142.9M260.7 137.8L261.3 101.8L261.9 137.8M264.1 141.1L264.7 109.3L265.3 141.1M267.7 137.3L268.3 122.1L268.9 137.3M272.6 160.8L273.2 123.1L273.8 160.8M276.1 139.7L276.7 100.7L277.3 139.7" stroke="#80e8f8"/><path d="M0 167.4H290" stroke="#ffa0c8" stroke-width="0.8"/></g>
<g font-family="Liberation Sans" font-size="7.3" letter-spacing="0.6" fill="#6a6a6a" opacity="0.999">
<text x="6.8" y="175.60">0</text>
<text x="6.8" y="164.20">305</text>
<text x="6.8" y="152.80">610</text>
<text x="6.8" y="141.40">915</text>
<text x="6.8" y="130.00">1220</text>
<text x="6.8" y="118.60">1525</text>
</g>
<g clip-path="url(#tc)">
<rect x="27.5" y="133.7" width="5.9" height="41.5" fill="#fdf6f6"/>
<rect x="33.4" y="141.4" width="12.1" height="33.8" fill="#ebfaf7"/>
<rect x="45.5" y="131.6" width="12.8" height="43.6" fill="#fdf6f6"/>
<rect x="58.2" y="133.7" width="5.4" height="41.5" fill="#ebfaf7"/>
<rect x="63.6" y="132.3" width="5.9" height="42.9" fill="#fdf6f6"/>
<rect x="69.6" y="137.3" width="18.4" height="37.9" fill="#ebfaf7"/>
<rect x="88.0" y="130.2" width="12.2" height="45.0" fill="#fdf6f6"/>
<rect x="100.2" y="119.2" width="5.8" height="56.0" fill="#ebfaf7"/>
<rect x="118.7" y="142.0" width="5.3" height="33.2" fill="#ebfaf7"/>
<rect x="130.8" y="108.8" width="6.3" height="66.4" fill="#ebfaf7"/>
<rect x="137.1" y="137.9" width="5.5" height="37.3" fill="#fdf6f6"/>
<rect x="149.1" y="105.2" width="6.1" height="70.0" fill="#ebfaf7"/>
<rect x="155.2" y="133.9" width="24.2" height="41.3" fill="#fdf6f6"/>
<rect x="179.4" y="140.5" width="5.6" height="34.7" fill="#ebfaf7"/>
<rect x="190.5" y="145.8" width="5.8" height="29.4" fill="#ebfaf7"/>
<rect x="215.7" y="137.9" width="6.3" height="37.3" fill="#fdf6f6"/>
<rect x="240.6" y="142.0" width="12.1" height="33.2" fill="#fdf6f6"/>
<rect x="252.7" y="140.6" width="5.7" height="34.6" fill="#ebfaf7"/>
<rect x="258.4" y="138.5" width="5.8" height="36.7" fill="#fdf6f6"/>
<rect x="264.1" y="141.6" width="6.0" height="33.6" fill="#ebfaf7"/>
<rect x="282.9" y="133.7" width="12.7" height="41.5" fill="#fdf6f6"/>
<rect x="308.0" y="135.2" width="11.8" height="40.0" fill="#ebfaf7"/>
<rect x="319.7" y="131.0" width="12.3" height="44.2" fill="#fdf6f6"/>
<rect x="338.2" y="137.9" width="5.9" height="37.3" fill="#fdf6f6"/>
<rect x="344.1" y="142.0" width="11.5" height="33.2" fill="#ebfaf7"/>
<rect x="361.3" y="148.3" width="11.8" height="26.9" fill="#ebfaf7"/>
<rect x="373.1" y="141.6" width="6.6" height="33.6" fill="#fdf6f6"/>
<rect x="386.0" y="134.8" width="12.4" height="40.4" fill="#fdf6f6"/>
<rect x="404.4" y="134.3" width="5.8" height="40.9" fill="#ebfaf7"/>
<rect x="410.2" y="133.7" width="12.6" height="41.5" fill="#fdf6f6"/>
<rect x="428.9" y="135.8" width="5.5" height="39.4" fill="#fdf6f6"/>
<rect x="434.4" y="137.9" width="11.2" height="37.3" fill="#ebfaf7"/>
<rect x="458.1" y="139.3" width="12.6" height="35.9" fill="#fdf6f6"/>
<rect x="482.8" y="150.4" width="6.2" height="24.8" fill="#fdf6f6"/>
<rect x="501.3" y="150.4" width="5.8" height="24.8" fill="#fdf6f6"/>
<rect x="507.1" y="142.0" width="11.9" height="33.2" fill="#ebfaf7"/>
<rect x="519.0" y="131.0" width="12.1" height="44.2" fill="#fdf6f6"/>
<rect x="531.1" y="126.0" width="5.6" height="49.2" fill="#ebfaf7"/>
<rect x="536.7" y="127.5" width="6.0" height="47.7" fill="#fdf6f6"/>
<rect x="542.7" y="145.2" width="5.9" height="30.0" fill="#ebfaf7"/>
</g>
<g clip-path="url(#tc)" fill="none" stroke-width="1" stroke-linejoin="round">
<path d="M30.0 175.2L32.0 175.2L32.5 175.1L33.0 174.8L33.5 174.0L34.0 172.0L34.5 168.2L35.0 162.6L35.5 156.5L36.0 152.2L36.5 151.8L37.0 155.4L37.5 161.4L38.0 167.2L38.5 171.1L39.0 172.9L39.5 172.3L40.0 169.2L40.5 163.3L41.0 155.4L41.5 147.9L42.0 144.0L42.5 145.7L43.0 152.2L43.5 160.3L44.0 167.2L44.5 171.7L45.0 173.9L45.5 174.8L46.0 175.1L46.5 175.2L56.5 175.2L57.0 175.0L57.5 174.6L58.0 173.2L58.5 169.9L59.0 163.7L59.5 154.6L60.0 144.6L60.5 137.5L61.0 136.8L61.5 142.8L62.0 152.6L62.5 162.1L63.0 168.9L63.5 172.7L64.0 174.4L64.5 175.0L65.0 175.2L68.5 175.2L69.0 175.1L69.5 174.7L70.0 173.7L70.5 171.4L71.0 167.2L71.5 161.4L72.0 155.4L72.5 151.8L73.0 152.2L73.5 156.5L74.0 162.6L74.5 168.1L75.0 171.4L75.5 172.1L76.0 170.0L76.5 164.7L77.0 156.5L77.5 147.4L78.0 141.0L78.5 140.3L79.0 145.8L79.5 154.7L80.0 163.3L80.5 169.4L81.0 172.7L81.5 173.5L82.0 172.2L82.5 168.5L83.0 162.4L83.5 154.6L84.0 147.9L84.5 145.2L85.0 147.9L85.5 154.6L86.0 162.4L86.5 168.6L87.0 172.4L87.5 174.2L88.0 174.9L88.5 175.1L89.0 175.2L98.5 175.2L99.0 175.0L99.5 174.3L100.0 172.4L100.5 168.0L101.0 159.5L101.5 147.0L102.0 133.2L102.5 123.5L103.0 122.5L103.5 130.7L104.0 144.2L104.5 157.3L105.0 166.6L105.5 171.8L106.0 174.1L106.5 174.9L107.0 175.1L107.5 175.2L116.5 175.2L117.0 175.1L117.5 174.8L118.0 173.9L118.5 171.7L119.0 167.4L119.5 160.6L120.0 152.6L120.5 146.3L121.0 144.6L121.5 148.4L122.0 155.8L122.5 163.5L123.0 169.4L123.5 172.8L124.0 174.4L124.5 175.0L125.0 175.1L125.5 175.2L130.0 175.2L130.5 175.0L131.0 174.6L131.5 173.1L132.0 169.2L132.5 161.1L133.0 147.9L133.5 131.4L134.0 117.1L134.5 111.3L135.0 117.1L135.5 131.4L136.0 147.9L136.5 161.1L137.0 169.2L137.5 173.1L138.0 174.6L138.5 175.0L139.0 175.2L148.0 175.2L148.5 175.1L149.0 174.7L149.5 173.4L150.0 170.0L150.5 162.5L151.0 149.6L151.5 132.5L152.0 116.3L152.5 108.0L153.0 111.7L153.5 125.5L154.0 143.0L154.5 158.0L155.0 167.6L155.5 172.4L156.0 174.3L156.5 175.0L157.0 175.2L177.5 175.2L178.0 175.1L178.5 175.0L179.0 174.3L179.5 172.7L180.0 169.1L180.5 163.0L181.0 154.8L181.5 147.1L182.0 143.1L182.5 144.9L183.0 151.5L183.5 159.9L184.0 167.0L184.5 171.6L185.0 173.9L185.5 174.8L186.0 175.1L186.5 175.2L189.0 175.2L189.5 175.0L190.0 174.5L190.5 173.1L191.0 170.1L191.5 165.0L192.0 158.2L192.5 151.7L193.0 148.4L193.5 149.9L194.0 155.4L194.5 162.4L195.0 168.3L195.5 172.2L196.0 174.1L196.5 174.9L197.0 175.1L197.5 175.2L251.0 175.2L251.5 175.1L252.0 174.9L252.5 174.1L253.0 172.2L253.5 168.1L254.0 161.5L254.5 153.2L255.0 146.0L255.5 143.1L256.0 146.0L256.5 153.2L257.0 161.5L257.5 168.1L258.0 172.2L258.5 174.1L259.0 174.9L259.5 175.1L260.0 175.2L262.5 175.2L263.0 175.1L263.5 174.9L264.0 174.2L264.5 172.3L265.0 168.3L265.5 161.9L266.0 153.9L266.5 146.9L267.0 144.1L267.5 146.9L268.0 153.9L268.5 161.9L269.0 168.3L269.5 172.3L270.0 174.2L270.5 174.9L271.0 175.1L271.5 175.2L306.5 175.2L307.0 175.1L307.5 174.9L308.0 174.2L308.5 172.3L309.0 168.1L309.5 161.0L310.0 151.5L310.5 142.5L311.0 137.8L311.5 139.9L312.0 147.6L312.5 157.3L313.0 165.5L313.5 170.5L314.0 172.1L314.5 170.6L315.0 166.1L315.5 159.0L316.0 151.1L316.5 145.5L317.0 145.0L317.5 149.7L318.0 157.4L318.5 164.9L319.0 170.3L319.5 173.2L320.0 174.6L320.5 175.0L321.0 175.2L342.5 175.2L343.0 175.1L343.5 174.9L344.0 174.3L344.5 172.6L345.0 169.0L345.5 163.2L346.0 156.0L346.5 149.7L347.0 147.2L347.5 149.7L348.0 156.0L348.5 163.2L349.0 168.9L349.5 172.1L350.0 172.7L350.5 170.8L351.0 166.1L351.5 159.0L352.0 151.1L352.5 145.5L353.0 145.0L353.5 149.7L354.0 157.4L354.5 164.9L355.0 170.3L355.5 173.2L356.0 174.6L356.5 175.0L357.0 175.2L360.0 175.2L360.5 175.1L361.0 174.7L361.5 173.6L362.0 171.3L362.5 167.0L363.0 161.0L363.5 154.9L364.0 151.2L364.5 151.6L365.0 156.0L365.5 162.3L366.0 167.9L366.5 171.6L367.0 172.8L367.5 171.9L368.0 168.8L368.5 163.9L369.0 158.5L369.5 154.6L370.0 154.2L370.5 157.5L371.0 162.8L371.5 168.1L372.0 171.8L372.5 173.8L373.0 174.8L373.5 175.1L374.0 175.2L403.0 175.2L403.5 175.1L404.0 174.7L404.5 173.6L405.0 170.8L405.5 165.4L406.0 156.9L406.5 146.9L407.0 139.1L407.5 136.9L408.0 141.7L408.5 150.9L409.0 160.6L409.5 168.0L410.0 172.2L410.5 174.2L411.0 174.9L411.5 175.1L412.0 175.2L433.0 175.2L433.5 175.0L434.0 174.6L434.5 173.5L435.0 171.0L435.5 166.7L436.0 161.1L436.5 155.7L437.0 153.0L437.5 154.2L438.0 158.8L438.5 164.5L439.0 169.3L439.5 171.9L440.0 172.1L440.5 169.3L441.0 163.5L441.5 155.0L442.0 146.3L442.5 140.9L443.0 141.6L443.5 147.9L444.0 156.8L444.5 165.0L445.0 170.5L445.5 173.4L446.0 174.6L446.5 175.1L447.0 175.2L505.5 175.2L506.0 175.1L506.5 174.8L507.0 173.9L507.5 171.7L508.0 167.6L508.5 161.5L509.0 154.9L509.5 150.2L510.0 149.7L510.5 153.7L511.0 160.2L511.5 166.5L512.0 170.9L512.5 173.1L513.0 173.1L513.5 170.9L514.0 166.1L514.5 159.0L515.0 151.1L515.5 145.5L516.0 145.0L516.5 149.7L517.0 157.4L517.5 164.9L518.0 170.3L518.5 173.2L519.0 174.6L519.5 175.0L520.0 175.2L529.0 175.2L529.5 175.1L530.0 174.9L530.5 174.2L531.0 172.2L531.5 167.7L532.0 159.5L532.5 148.1L533.0 136.4L533.5 129.2L534.0 130.1L534.5 138.5L535.0 150.5L535.5 161.5L536.0 168.9L536.5 172.8L537.0 174.4L537.5 175.0L538.0 175.2L541.5 175.2L542.0 175.0L542.5 174.5L543.0 173.1L543.5 170.0L544.0 164.8L544.5 157.8L545.0 151.2L545.5 147.8L546.0 149.3" stroke="#8cd67c"/>
<path d="M30.0 139.7L30.5 136.2L31.0 139.7L31.5 148.5L32.0 158.5L32.5 166.6L33.0 171.5L33.5 173.9L34.0 174.8L34.5 175.1L35.0 175.2L44.5 175.2L45.0 175.1L45.5 174.7L46.0 173.8L46.5 171.4L47.0 167.0L47.5 160.4L48.0 153.2L48.5 148.1L49.0 147.6L49.5 151.9L50.0 159.0L50.5 165.8L51.0 170.7L51.5 173.4L52.0 174.4L52.5 174.2L53.0 172.6L53.5 168.6L54.0 161.4L54.5 151.4L55.0 141.1L55.5 134.7L56.0 135.5L56.5 142.9L57.0 153.5L57.5 163.1L58.0 169.6L58.5 173.1L59.0 174.5L59.5 175.0L60.0 175.2L62.0 175.2L62.5 175.1L63.0 174.8L63.5 173.9L64.0 171.4L64.5 166.3L65.0 157.9L65.5 147.5L66.0 138.4L66.5 134.8L67.0 138.4L67.5 147.5L68.0 157.9L68.5 166.3L69.0 171.4L69.5 173.9L70.0 174.8L70.5 175.1L71.0 175.2L87.0 175.2L87.5 175.1L88.0 174.7L88.5 173.7L89.0 171.1L89.5 166.0L90.0 158.1L90.5 148.8L91.0 141.4L91.5 139.4L92.0 143.9L92.5 152.5L93.0 161.5L93.5 168.3L94.0 172.1L94.5 173.1L95.0 171.6L95.5 167.1L96.0 159.0L96.5 148.3L97.0 138.1L97.5 132.9L98.0 135.2L98.5 143.9L99.0 154.9L99.5 164.3L100.0 170.4L100.5 173.4L101.0 174.7L101.5 175.1L102.0 175.2L135.5 175.2L136.0 175.0L136.5 174.5L137.0 173.0L137.5 169.6L138.0 163.5L138.5 155.0L139.0 146.3L139.5 140.9L140.0 141.6L140.5 147.9L141.0 156.8L141.5 165.0L142.0 170.5L142.5 173.4L143.0 174.6L143.5 175.1L144.0 175.2L153.5 175.2L154.0 175.1L154.5 174.7L155.0 173.7L155.5 171.3L156.0 166.8L156.5 160.1L157.0 152.7L157.5 147.6L158.0 147.0L158.5 151.4L159.0 158.6L159.5 165.6L160.0 170.6L160.5 173.3L161.0 174.3L161.5 174.0L162.0 172.2L162.5 167.9L163.0 160.5L163.5 150.6L164.0 141.3L164.5 136.5L165.0 138.7L165.5 146.6L166.0 156.7L166.5 165.2L167.0 170.6L167.5 172.9L168.0 172.5L168.5 169.6L169.0 163.8L169.5 155.5L170.0 146.9L170.5 141.7L171.0 142.3L171.5 148.5L172.0 157.2L172.5 165.2L173.0 170.5L173.5 172.9L174.0 173.0L174.5 170.7L175.0 165.8L175.5 158.4L176.0 150.2L176.5 144.4L177.0 143.8L177.5 148.7L178.0 156.7L178.5 164.5L179.0 170.1L179.5 173.2L180.0 174.5L180.5 175.0L181.0 175.2L214.5 175.2L215.0 175.1L215.5 174.8L216.0 173.8L216.5 171.3L217.0 166.3L217.5 158.6L218.0 149.6L218.5 142.4L219.0 140.5L219.5 144.8L220.0 153.2L220.5 162.0L221.0 168.6L221.5 172.5L222.0 174.3L222.5 174.9L223.0 175.1L223.5 175.2L239.5 175.2L240.0 175.0L240.5 174.6L241.0 173.4L241.5 170.6L242.0 165.6L242.5 158.6L243.0 151.4L243.5 147.0L244.0 147.6L244.5 152.7L245.0 160.1L245.5 166.8L246.0 171.2L246.5 173.3L247.0 173.5L247.5 171.6L248.0 167.3L248.5 160.6L249.0 152.6L249.5 146.3L250.0 144.6L250.5 148.4L251.0 155.8L251.5 163.5L252.0 169.4L252.5 172.8L253.0 174.4L253.5 175.0L254.0 175.1L254.5 175.2L257.0 175.2L257.5 175.0L258.0 174.5L258.5 173.0L259.0 169.7L259.5 163.7L260.0 155.4L260.5 146.8L261.0 141.5L261.5 142.1L262.0 148.4L262.5 157.1L263.0 165.2L263.5 170.6L264.0 173.4L264.5 174.6L265.0 175.1L265.5 175.2L282.0 175.2L282.5 175.0L283.0 174.6L283.5 173.2L284.0 169.9L284.5 163.7L285.0 154.6L285.5 144.6L286.0 137.5L286.5 136.8L287.0 142.8L287.5 152.6L288.0 162.1L288.5 168.9L289.0 172.4L289.5 173.3L290.0 171.8L290.5 167.8L291.0 160.9L291.5 152.3L292.0 144.8L292.5 141.8L293.0 144.8L293.5 152.3L294.0 160.9L294.5 167.8L295.0 172.1L295.5 174.1L296.0 174.9L296.5 175.1L297.0 175.2L318.0 175.2L318.5 175.1L319.0 175.0L319.5 174.4L320.0 172.7L320.5 169.1L321.0 163.0L321.5 154.9L322.0 147.2L322.5 143.2L323.0 145.0L323.5 151.6L324.0 159.9L324.5 167.0L325.0 171.4L325.5 173.3L326.0 173.1L326.5 170.4L327.0 164.5L327.5 155.3L328.0 144.5L328.5 135.9L329.0 133.7L329.5 138.8L330.0 148.8L330.5 159.4L331.0 167.3L331.5 172.0L332.0 174.1L332.5 174.9L333.0 175.1L333.5 175.2L337.0 175.2L337.5 175.1L338.0 174.6L338.5 173.4L339.0 170.5L339.5 165.0L340.0 156.8L340.5 147.9L341.0 141.6L341.5 140.9L342.0 146.3L342.5 155.0L343.0 163.5L343.5 169.6L344.0 173.0L344.5 174.5L345.0 175.0L345.5 175.2L372.0 175.2L372.5 175.1L373.0 174.7L373.5 173.6L374.0 171.0L374.5 166.1L375.0 158.8L375.5 150.8L376.0 145.1L376.5 144.6L377.0 149.4L377.5 157.2L378.0 164.8L378.5 170.2L379.0 173.2L379.5 174.6L380.0 175.0L380.5 175.2L385.0 175.2L385.5 175.0L386.0 174.5L386.5 173.2L387.0 170.2L387.5 164.7L388.0 157.0L388.5 149.2L389.0 144.4L389.5 144.9L390.0 150.6L390.5 158.7L391.0 166.0L391.5 170.8L392.0 173.1L392.5 173.1L393.0 170.8L393.5 165.5L394.0 157.1L394.5 147.3L395.0 139.5L395.5 137.4L396.0 142.1L396.5 151.2L397.0 160.8L397.5 168.0L398.0 172.3L398.5 174.2L399.0 174.9L399.5 175.1L400.0 175.2L408.5 175.2L409.0 175.1L409.5 174.9L410.0 174.3L410.5 172.6L411.0 169.0L411.5 163.2L412.0 156.0L412.5 149.7L413.0 147.2L413.5 149.7L414.0 156.0L414.5 163.2L415.0 169.0L415.5 172.4L416.0 173.8L416.5 173.3L417.0 170.7L417.5 165.2L418.0 156.6L418.5 146.5L419.0 138.5L419.5 136.3L420.0 141.2L420.5 150.5L421.0 160.4L421.5 167.8L422.0 172.2L422.5 174.2L423.0 174.9L423.5 175.1L424.0 175.2L427.5 175.2L428.0 175.0L428.5 174.4L429.0 172.9L429.5 169.3L430.0 162.8L430.5 153.8L431.0 144.5L431.5 138.9L432.0 139.5L432.5 146.2L433.0 155.7L433.5 164.4L434.0 170.2L434.5 173.3L435.0 174.6L435.5 175.0L436.0 175.2L457.0 175.2L457.5 175.1L458.0 174.9L458.5 174.1L459.0 172.3L459.5 168.6L460.0 162.9L460.5 156.1L461.0 150.8L461.5 149.4L462.0 152.6L462.5 158.8L463.0 165.3L463.5 170.3L464.0 172.9L464.5 173.6L465.0 172.4L465.5 168.9L466.0 162.5L466.5 154.1L467.0 146.0L467.5 141.9L468.0 143.8L468.5 150.6L469.0 159.3L469.5 166.7L470.0 171.4L470.5 173.8L471.0 174.8L471.5 175.1L472.0 175.2L481.5 175.2L482.0 175.1L482.5 174.8L483.0 174.0L483.5 172.2L484.0 168.6L484.5 163.4L485.0 157.7L485.5 153.6L486.0 153.2L486.5 156.7L487.0 162.3L487.5 167.7L488.0 171.6L488.5 173.8L489.0 174.7L489.5 175.1L490.0 175.2L500.0 175.2L500.5 175.1L501.0 174.9L501.5 174.3L502.0 172.7L502.5 169.5L503.0 164.6L503.5 158.8L504.0 154.2L504.5 153.0L505.0 155.7L505.5 161.1L506.0 166.7L506.5 171.0L507.0 173.5L507.5 174.6L508.0 175.0L508.5 175.2L517.5 175.2L518.0 175.1L518.5 175.0L519.0 174.4L519.5 172.8L520.0 169.4L520.5 163.5L521.0 155.8L521.5 148.4L522.0 144.6L522.5 146.3L523.0 152.6L523.5 160.6L524.0 167.3L524.5 171.6L525.0 173.5L525.5 173.4L526.0 171.2L526.5 166.0L527.0 157.4L527.5 146.6L528.0 137.3L528.5 133.5L529.0 137.3L529.5 146.6L530.0 157.4L530.5 166.0L531.0 171.3L531.5 173.8L532.0 174.8L532.5 175.1L533.0 175.2L535.0 175.2L535.5 175.1L536.0 174.9L536.5 174.3L537.0 172.3L537.5 167.9L538.0 160.0L538.5 149.0L539.0 137.6L539.5 130.7L540.0 131.5L540.5 139.7L541.0 151.3L541.5 161.9L542.0 169.1L542.5 172.9L543.0 174.5L543.5 175.0L544.0 175.2L546.0 175.2" stroke="#e0907e"/>
<path d="M30.0 175.2L104.5 175.2L105.0 175.1L105.5 174.9L106.0 174.2L106.5 172.3L107.0 168.1L107.5 161.0L108.0 151.5L108.5 142.5L109.0 137.8L109.5 139.9L110.0 147.6L110.5 157.3L111.0 165.6L111.5 170.9L112.0 173.6L112.5 174.6L113.0 174.7L113.5 173.8L114.0 171.4L114.5 166.7L115.0 159.4L115.5 150.8L116.0 143.9L116.5 142.1L117.0 146.2L117.5 154.2L118.0 162.6L118.5 168.9L119.0 172.6L119.5 174.3L120.0 175.0L120.5 175.1L121.0 175.2L183.5 175.2L184.0 175.1L184.5 174.7L185.0 173.5L185.5 170.6L186.0 164.9L186.5 156.0L187.0 145.6L187.5 137.4L188.0 135.2L188.5 140.1L189.0 149.8L189.5 159.9L190.0 167.6L190.5 172.1L191.0 174.1L191.5 174.9L192.0 175.1L192.5 175.2L208.0 175.2L208.5 175.1L209.0 174.7L209.5 173.5L210.0 170.6L210.5 164.9L211.0 155.9L211.5 145.5L212.0 137.2L212.5 135.0L213.0 139.9L213.5 149.6L214.0 159.9L214.5 167.6L215.0 172.1L215.5 174.1L216.0 174.9L216.5 175.1L217.0 175.2L226.5 175.2L227.0 175.0L227.5 174.6L228.0 173.3L228.5 170.6L229.0 165.9L229.5 159.8L230.0 153.9L230.5 150.9L231.0 152.2L231.5 157.2L232.0 163.6L232.5 169.0L233.0 172.4L233.5 174.2L234.0 174.9L234.5 175.1L235.0 175.2L275.0 175.2L275.5 175.1L276.0 174.7L276.5 173.7L277.0 171.0L277.5 165.8L278.0 157.6L278.5 148.0L279.0 140.5L279.5 138.4L280.0 143.0L280.5 151.8L281.0 161.2L281.5 168.2L282.0 172.3L282.5 174.2L283.0 174.9L283.5 175.1L284.0 175.2L331.0 175.2L331.5 175.0L332.0 174.4L332.5 173.0L333.0 169.8L333.5 164.3L334.0 157.1L334.5 150.2L335.0 146.7L335.5 148.3L336.0 154.1L336.5 161.6L337.0 167.9L337.5 172.0L338.0 174.0L338.5 174.8L339.0 175.1L339.5 175.2L354.0 175.2L354.5 175.1L355.0 174.7L355.5 173.5L356.0 170.6L356.5 164.9L357.0 155.9L357.5 145.5L358.0 137.2L358.5 135.0L359.0 139.9L359.5 149.6L360.0 159.9L360.5 167.6L361.0 172.1L361.5 174.1L362.0 174.9L362.5 175.1L363.0 175.2L378.5 175.2L379.0 175.1L379.5 174.7L380.0 173.6L380.5 171.0L381.0 165.6L381.5 157.3L382.0 147.6L382.5 139.9L383.0 137.8L383.5 142.5L384.0 151.5L384.5 161.0L385.0 168.1L385.5 172.3L386.0 174.2L386.5 174.9L387.0 175.1L387.5 175.2L421.5 175.2L422.0 175.1L422.5 174.9L423.0 174.3L423.5 172.6L424.0 168.8L424.5 162.4L425.0 153.8L425.5 145.7L426.0 141.5L426.5 143.4L427.0 150.3L427.5 159.1L428.0 166.6L428.5 171.4L429.0 173.8L429.5 174.8L430.0 175.1L430.5 175.2L546.0 175.2" stroke="#6c6ce2"/>
<path d="M30.0 175.2L123.0 175.2L123.5 175.0L124.0 174.6L124.5 173.5L125.0 171.3L125.5 167.6L126.0 162.9L126.5 158.9L127.0 157.3L127.5 158.9L128.0 162.9L128.5 167.6L129.0 171.3L129.5 173.5L130.0 174.6L130.5 175.0L131.0 175.2L141.0 175.2L141.5 175.1L142.0 174.8L142.5 173.9L143.0 171.6L143.5 166.7L144.0 158.8L144.5 148.9L145.0 140.3L145.5 136.8L146.0 140.3L146.5 148.9L147.0 158.8L147.5 166.7L148.0 171.6L148.5 173.9L149.0 174.8L149.5 175.1L150.0 175.2L195.0 175.2L195.5 175.1L196.0 174.9L196.5 174.1L197.0 172.2L197.5 168.1L198.0 161.5L198.5 153.3L199.0 146.1L199.5 143.2L200.0 146.1L200.5 153.3L201.0 161.5L201.5 168.1L202.0 171.9L202.5 173.1L203.0 171.7L203.5 167.4L204.0 159.6L204.5 149.2L205.0 139.4L205.5 134.4L206.0 136.6L206.5 145.0L207.0 155.7L207.5 164.7L208.0 170.6L208.5 173.5L209.0 174.7L209.5 175.1L210.0 175.2L220.5 175.2L221.0 175.1L221.5 174.7L222.0 173.5L222.5 170.4L223.0 164.0L223.5 153.5L224.0 140.4L224.5 129.0L225.0 124.4L225.5 129.0L226.0 140.4L226.5 153.5L227.0 164.0L227.5 170.4L228.0 173.5L228.5 174.7L229.0 175.1L229.5 175.2L233.0 175.2L233.5 175.1L234.0 174.9L234.5 174.3L235.0 172.6L235.5 169.2L236.0 163.6L236.5 156.6L237.0 150.5L237.5 148.1L238.0 150.5L238.5 156.6L239.0 163.6L239.5 169.2L240.0 172.6L240.5 174.3L241.0 174.9L241.5 175.1L242.0 175.2L269.0 175.2L269.5 175.1L270.0 174.8L270.5 174.0L271.0 172.1L271.5 168.6L272.0 163.8L272.5 158.9L273.0 155.9L273.5 156.3L274.0 159.8L274.5 164.9L275.0 169.4L275.5 172.5L276.0 174.2L276.5 174.9L277.0 175.1L277.5 175.2L294.0 175.2L294.5 175.1L295.0 174.7L295.5 173.5L296.0 170.3L296.5 163.4L297.0 151.5L297.5 135.6L298.0 120.7L298.5 112.9L299.0 116.4L299.5 129.2L300.0 145.4L300.5 159.2L301.0 168.0L301.5 172.3L302.0 173.5L302.5 172.7L303.0 170.1L303.5 166.2L304.0 161.8L304.5 158.7L305.0 158.4L305.5 161.0L306.0 165.3L306.5 169.5L307.0 172.5L307.5 174.1L308.0 174.8L308.5 175.1L309.0 175.2L397.0 175.2L397.5 175.1L398.0 174.6L398.5 173.3L399.0 170.0L399.5 163.5L400.0 153.4L400.5 141.5L401.0 132.1L401.5 129.6L402.0 135.2L402.5 146.2L403.0 157.8L403.5 166.6L404.0 171.6L404.5 174.0L405.0 174.9L405.5 175.1L406.0 175.2L444.5 175.2L445.0 175.0L445.5 174.5L446.0 173.2L446.5 170.6L447.0 166.3L447.5 160.9L448.0 156.2L448.5 154.3L449.0 156.2L449.5 160.9L450.0 166.3L450.5 170.5L451.0 173.0L451.5 173.6L452.0 172.2L452.5 167.7L453.0 159.0L453.5 146.2L454.0 132.0L454.5 122.0L455.0 121.0L455.5 129.5L456.0 143.3L456.5 156.8L457.0 166.4L457.5 171.7L458.0 174.1L458.5 174.9L459.0 175.1L459.5 175.2L469.5 175.2L470.0 175.0L470.5 174.6L471.0 173.1L471.5 169.5L472.0 162.3L472.5 151.2L473.0 138.1L473.5 127.8L474.0 125.0L474.5 131.2L475.0 143.3L475.5 156.0L476.0 165.5L476.5 170.7L477.0 172.1L477.5 170.5L478.0 166.0L478.5 159.5L479.0 152.7L479.5 148.5L480.0 149.0L480.5 153.9L481.0 160.9L481.5 167.2L482.0 171.5L482.5 173.8L483.0 174.8L483.5 175.1L484.0 175.2L487.5 175.2L488.0 175.1L488.5 174.8L489.0 173.8L489.5 171.0L490.0 165.1L490.5 154.9L491.0 141.3L491.5 128.5L492.0 121.9L492.5 124.8L493.0 135.8L493.5 149.7L494.0 161.5L494.5 169.0L495.0 172.3L495.5 172.4L496.0 169.8L496.5 164.2L497.0 156.2L497.5 148.0L498.0 143.0L498.5 143.6L499.0 149.5L499.5 157.9L500.0 165.6L500.5 170.8L501.0 173.5L501.5 174.7L502.0 175.1L502.5 175.2L546.0 175.2" stroke="#4e4e4e"/>
</g>
<path d="M32 175.20H546.3" stroke="#38283c" stroke-width="1.1"/>
<path d="M3 176.4H546" stroke="#f4b0c0" stroke-width="0.8"/>
<g clip-path="url(#tc)" font-family="Liberation Sans" font-size="4.8" font-weight="bold" text-anchor="middle">
<text x="31.7" y="96.05" fill="#e48c98">T</text>
<text x="37.5" y="96.05" fill="#88d890">A</text>
<text x="43.3" y="96.05" fill="#88d890">A</text>
<text x="50.0" y="96.05" fill="#e48c98">T</text>
<text x="56.9" y="96.05" fill="#e48c98">T</text>
<text x="62.0" y="96.05" fill="#88d890">A</text>
<text x="67.7" y="96.05" fill="#e48c98">T</text>
<text x="73.9" y="96.05" fill="#88d890">A</text>
<text x="79.5" y="96.05" fill="#88d890">A</text>
<text x="85.7" y="96.05" fill="#88d890">A</text>
<text x="92.6" y="96.05" fill="#e48c98">T</text>
<text x="98.8" y="96.05" fill="#e48c98">T</text>
<text x="104.0" y="96.05" fill="#88d890">A</text>
<text x="110.3" y="96.05" fill="#9c9ce0">C</text>
<text x="117.6" y="96.05" fill="#9c9ce0">C</text>
<text x="122.1" y="96.05" fill="#88d890">A</text>
<text x="128.2" y="96.05" fill="#888888">G</text>
<text x="135.7" y="96.05" fill="#88d890">A</text>
<text x="140.9" y="96.05" fill="#e48c98">T</text>
<text x="146.7" y="96.05" fill="#888888">G</text>
<text x="153.8" y="96.05" fill="#88d890">A</text>
<text x="159.0" y="96.05" fill="#e48c98">T</text>
<text x="165.8" y="96.05" fill="#e48c98">T</text>
<text x="171.9" y="96.05" fill="#e48c98">T</text>
<text x="178.0" y="96.05" fill="#e48c98">T</text>
<text x="183.3" y="96.05" fill="#88d890">A</text>
<text x="189.1" y="96.05" fill="#9c9ce0">C</text>
<text x="194.3" y="96.05" fill="#88d890">A</text>
<text x="200.7" y="96.05" fill="#888888">G</text>
<text x="206.8" y="96.05" fill="#888888">G</text>
<text x="213.6" y="96.05" fill="#9c9ce0">C</text>
<text x="220.1" y="96.05" fill="#e48c98">T</text>
<text x="226.2" y="96.05" fill="#888888">G</text>
<text x="231.8" y="96.05" fill="#9c9ce0">C</text>
<text x="238.7" y="96.05" fill="#888888">G</text>
<text x="244.9" y="96.05" fill="#e48c98">T</text>
<text x="251.1" y="96.05" fill="#e48c98">T</text>
<text x="256.7" y="96.05" fill="#88d890">A</text>
<text x="262.4" y="96.05" fill="#e48c98">T</text>
<text x="268.2" y="96.05" fill="#88d890">A</text>
<text x="274.4" y="96.05" fill="#888888">G</text>
<text x="280.6" y="96.05" fill="#9c9ce0">C</text>
<text x="287.5" y="96.05" fill="#e48c98">T</text>
<text x="293.7" y="96.05" fill="#e48c98">T</text>
<text x="299.8" y="96.05" fill="#888888">G</text>
<text x="306.0" y="96.05" fill="#888888">G</text>
<text x="312.3" y="96.05" fill="#88d890">A</text>
<text x="318.0" y="96.05" fill="#88d890">A</text>
<text x="323.8" y="96.05" fill="#e48c98">T</text>
<text x="330.1" y="96.05" fill="#e48c98">T</text>
<text x="336.3" y="96.05" fill="#9c9ce0">C</text>
<text x="342.5" y="96.05" fill="#e48c98">T</text>
<text x="348.2" y="96.05" fill="#88d890">A</text>
<text x="354.0" y="96.05" fill="#88d890">A</text>
<text x="359.6" y="96.05" fill="#9c9ce0">C</text>
<text x="365.4" y="96.05" fill="#88d890">A</text>
<text x="371.0" y="96.05" fill="#88d890">A</text>
<text x="377.5" y="96.05" fill="#e48c98">T</text>
<text x="384.1" y="96.05" fill="#9c9ce0">C</text>
<text x="390.4" y="96.05" fill="#e48c98">T</text>
<text x="396.6" y="96.05" fill="#e48c98">T</text>
<text x="402.6" y="96.05" fill="#888888">G</text>
<text x="408.6" y="96.05" fill="#88d890">A</text>
<text x="414.2" y="96.05" fill="#e48c98">T</text>
<text x="420.6" y="96.05" fill="#e48c98">T</text>
<text x="427.3" y="96.05" fill="#9c9ce0">C</text>
<text x="432.9" y="96.05" fill="#e48c98">T</text>
<text x="438.3" y="96.05" fill="#88d890">A</text>
<text x="443.9" y="96.05" fill="#88d890">A</text>
<text x="449.7" y="96.05" fill="#888888">G</text>
<text x="456.0" y="96.05" fill="#888888">G</text>
<text x="462.6" y="96.05" fill="#e48c98">T</text>
<text x="468.8" y="96.05" fill="#e48c98">T</text>
<text x="475.1" y="96.05" fill="#888888">G</text>
<text x="480.9" y="96.05" fill="#888888">G</text>
<text x="487.0" y="96.05" fill="#e48c98">T</text>
<text x="493.3" y="96.05" fill="#888888">G</text>
<text x="499.4" y="96.05" fill="#888888">G</text>
<text x="505.6" y="96.05" fill="#e48c98">T</text>
<text x="511.0" y="96.05" fill="#88d890">A</text>
<text x="517.0" y="96.05" fill="#88d890">A</text>
<text x="523.3" y="96.05" fill="#e48c98">T</text>
<text x="529.7" y="96.05" fill="#e48c98">T</text>
<text x="534.9" y="96.05" fill="#88d890">A</text>
<text x="540.9" y="96.05" fill="#e48c98">T</text>
<text x="546.8" y="96.05" fill="#88d890">A</text>
</g>
<g clip-path="url(#tc)" font-family="Liberation Sans" font-size="6" text-anchor="middle" fill="#585858" style="text-rendering:geometricPrecision">
<text x="60.5" y="104.90">89</text>
<text x="108.8" y="104.90">97</text>
<text x="157.5" y="104.90">105</text>
<text x="205.3" y="104.90">113</text>
<text x="255.2" y="104.90">121</text>
<text x="304.5" y="104.90">129</text>
<text x="352.5" y="104.90">137</text>
<text x="401.1" y="104.90">145</text>
<text x="448.2" y="104.90">153</text>
<text x="497.9" y="104.90">161</text>
<text x="545.3" y="104.90">169</text>
</g>
<rect x="344.9" y="97.50" width="16.4" height="1.6" fill="#000"/>
<rect x="454.2" y="96.70" width="15.8" height="1.6" fill="#000"/>
<rect x="471.6" y="99.10" width="16.9" height="1.6" fill="#000"/>
<g font-family="Liberation Sans" font-size="7.3" letter-spacing="0.6" fill="#6a6a6a" opacity="0.999">
<text x="6.8" y="263.60">0</text>
<text x="6.8" y="252.20">305</text>
<text x="6.8" y="240.80">610</text>
<text x="6.8" y="229.40">915</text>
<text x="6.8" y="218.00">1220</text>
<text x="6.8" y="206.60">1525</text>
</g>
<g clip-path="url(#tc)">
<rect x="27.5" y="225.3" width="11.4" height="38.0" fill="#ebfaf7"/>
<rect x="38.9" y="214.0" width="12.5" height="49.3" fill="#fdf6f6"/>
<rect x="51.4" y="216.5" width="5.7" height="46.8" fill="#ebfaf7"/>
<rect x="70.2" y="222.8" width="6.2" height="40.5" fill="#fdf6f6"/>
<rect x="82.6" y="232.7" width="5.9" height="30.6" fill="#fdf6f6"/>
<rect x="88.5" y="239.8" width="5.8" height="23.5" fill="#ebfaf7"/>
<rect x="94.3" y="224.8" width="5.9" height="38.5" fill="#fdf6f6"/>
<rect x="100.2" y="230.0" width="5.9" height="33.3" fill="#ebfaf7"/>
<rect x="112.8" y="218.6" width="6.3" height="44.7" fill="#ebfaf7"/>
<rect x="119.1" y="221.5" width="12.2" height="41.8" fill="#fdf6f6"/>
<rect x="137.4" y="232.1" width="18.4" height="31.2" fill="#fdf6f6"/>
<rect x="155.8" y="204.5" width="5.7" height="58.8" fill="#ebfaf7"/>
<rect x="174.3" y="203.0" width="12.3" height="60.3" fill="#ebfaf7"/>
<rect x="192.7" y="225.3" width="6.2" height="38.0" fill="#fdf6f6"/>
<rect x="211.1" y="217.6" width="11.6" height="45.7" fill="#ebfaf7"/>
<rect x="222.8" y="228.0" width="6.7" height="35.3" fill="#fdf6f6"/>
<rect x="236.0" y="226.5" width="6.4" height="36.8" fill="#fdf6f6"/>
<rect x="248.3" y="221.7" width="17.4" height="41.6" fill="#ebfaf7"/>
<rect x="278.6" y="214.0" width="25.2" height="49.3" fill="#fdf6f6"/>
<rect x="310.0" y="216.1" width="5.8" height="47.2" fill="#ebfaf7"/>
<rect x="322.0" y="197.4" width="6.2" height="65.9" fill="#ebfaf7"/>
<rect x="334.3" y="204.1" width="6.2" height="59.2" fill="#ebfaf7"/>
<rect x="346.8" y="202.4" width="6.0" height="60.9" fill="#ebfaf7"/>
<rect x="352.8" y="226.5" width="5.4" height="36.8" fill="#fdf6f6"/>
<rect x="358.2" y="223.2" width="5.9" height="40.1" fill="#ebfaf7"/>
<rect x="364.1" y="222.8" width="19.3" height="40.5" fill="#fdf6f6"/>
<rect x="389.1" y="232.1" width="11.7" height="31.2" fill="#ebfaf7"/>
<rect x="407.3" y="216.9" width="6.8" height="46.4" fill="#fdf6f6"/>
<rect x="420.6" y="219.0" width="18.5" height="44.3" fill="#ebfaf7"/>
<rect x="439.1" y="225.9" width="6.4" height="37.4" fill="#fdf6f6"/>
<rect x="451.8" y="225.3" width="5.9" height="38.0" fill="#fdf6f6"/>
<rect x="457.7" y="221.7" width="5.9" height="41.6" fill="#ebfaf7"/>
<rect x="463.6" y="217.6" width="6.3" height="45.7" fill="#fdf6f6"/>
<rect x="476.0" y="229.5" width="5.7" height="33.8" fill="#ebfaf7"/>
<rect x="520.6" y="236.9" width="6.1" height="26.4" fill="#fdf6f6"/>
<rect x="526.7" y="239.4" width="6.0" height="23.9" fill="#ebfaf7"/>
</g>
<g clip-path="url(#tc)" fill="none" stroke-width="1" stroke-linejoin="round">
<path d="M30.0 239.1L30.5 236.7L31.0 239.1L31.5 245.1L32.0 251.8L32.5 257.0L33.0 259.3L33.5 258.4L34.0 254.0L34.5 246.3L35.0 237.2L35.5 229.9L36.0 227.9L36.5 232.3L37.0 240.8L37.5 249.8L38.0 256.6L38.5 260.5L39.0 262.4L39.5 263.0L40.0 263.2L40.5 263.3L49.5 263.3L50.0 263.2L50.5 262.9L51.0 261.8L51.5 259.1L52.0 253.5L52.5 244.4L53.0 232.9L53.5 223.0L54.0 219.0L54.5 223.0L55.0 232.9L55.5 244.4L56.0 253.5L56.5 259.1L57.0 261.8L57.5 262.9L58.0 263.2L58.5 263.3L87.0 263.3L87.5 263.2L88.0 263.0L88.5 262.4L89.0 260.9L89.5 257.9L90.0 253.3L90.5 247.8L91.0 243.5L91.5 242.4L92.0 245.0L92.5 250.0L93.0 255.3L93.5 259.3L94.0 261.7L94.5 262.7L95.0 263.1L95.5 263.3L99.0 263.3L99.5 263.2L100.0 262.8L100.5 261.7L101.0 259.1L101.5 254.3L102.0 247.0L102.5 239.1L103.0 233.5L103.5 233.0L104.0 237.7L104.5 245.4L105.0 253.0L105.5 258.4L106.0 261.3L106.5 262.7L107.0 263.1L107.5 263.3L112.0 263.3L112.5 263.2L113.0 262.8L113.5 261.5L114.0 258.5L114.5 252.5L115.0 243.2L115.5 232.2L116.0 223.6L116.5 221.3L117.0 226.5L117.5 236.6L118.0 247.3L118.5 255.3L119.0 260.0L119.5 262.2L120.0 263.0L120.5 263.2L121.0 263.3L154.0 263.3L154.5 263.1L155.0 262.6L155.5 261.0L156.0 256.9L156.5 248.9L157.0 236.5L157.5 221.9L158.0 210.3L158.5 207.2L159.0 214.2L159.5 227.7L160.0 241.9L160.5 252.7L161.0 258.9L161.5 261.8L162.0 262.9L162.5 263.2L163.0 263.3L173.0 263.3L173.5 263.2L174.0 263.0L174.5 262.1L175.0 259.6L175.5 254.0L176.0 243.9L176.5 229.8L177.0 215.3L177.5 206.4L178.0 207.4L178.5 217.9L179.0 232.8L179.5 246.3L180.0 255.3L180.5 259.7L181.0 260.6L181.5 258.6L182.0 254.0L182.5 247.3L183.0 240.4L183.5 236.1L184.0 236.6L184.5 241.6L185.0 248.7L185.5 255.2L186.0 259.6L186.5 261.9L187.0 262.9L187.5 263.2L188.0 263.3L209.5 263.3L210.0 263.2L210.5 262.8L211.0 261.5L211.5 258.4L212.0 252.3L212.5 242.7L213.0 231.5L213.5 222.6L214.0 220.3L214.5 225.6L215.0 236.0L215.5 246.8L216.0 255.0L216.5 259.3L217.0 260.1L217.5 257.7L218.0 252.2L218.5 244.3L219.0 236.0L219.5 231.0L220.0 231.6L220.5 237.5L221.0 246.0L221.5 253.7L222.0 258.9L222.5 261.6L223.0 262.8L223.5 263.2L224.0 263.3L246.5 263.3L247.0 263.2L247.5 262.8L248.0 261.8L248.5 259.4L249.0 254.9L249.5 248.2L250.0 240.8L250.5 235.6L251.0 235.0L251.5 239.5L252.0 246.6L252.5 253.6L253.0 258.6L253.5 261.0L254.0 261.2L254.5 259.5L255.0 255.9L255.5 251.1L256.0 246.5L256.5 244.1L257.0 245.1L257.5 249.1L258.0 254.1L258.5 258.3L259.0 260.9L259.5 261.9L260.0 261.0L260.5 257.9L261.0 251.8L261.5 242.7L262.0 232.6L262.5 225.5L263.0 224.8L263.5 230.8L264.0 240.6L264.5 250.2L265.0 257.0L265.5 260.8L266.0 262.5L266.5 263.1L267.0 263.3L308.5 263.3L309.0 263.2L309.5 263.0L310.0 262.1L310.5 259.8L311.0 254.9L311.5 246.3L312.0 235.0L312.5 224.3L313.0 218.8L313.5 221.2L314.0 230.4L314.5 242.0L315.0 251.9L315.5 258.2L316.0 261.4L316.5 262.7L317.0 263.2L317.5 263.3L321.0 263.3L321.5 263.2L322.0 262.9L322.5 262.0L323.0 259.3L323.5 253.1L324.0 242.0L324.5 226.5L325.0 210.6L325.5 200.9L326.0 202.0L326.5 213.5L327.0 229.8L327.5 244.7L328.0 254.7L328.5 260.0L329.0 262.3L329.5 263.0L330.0 263.2L330.5 263.3L333.0 263.3L333.5 263.2L334.0 263.0L334.5 262.1L335.0 259.7L335.5 254.2L336.0 244.3L336.5 230.4L337.0 216.2L337.5 207.5L338.0 208.5L338.5 218.8L339.0 233.4L339.5 246.6L340.0 255.6L340.5 260.4L341.0 262.4L341.5 263.1L342.0 263.2L342.5 263.3L345.5 263.3L346.0 263.2L346.5 263.0L347.0 262.1L347.5 259.6L348.0 253.9L348.5 243.7L349.0 229.4L349.5 214.8L350.0 205.8L350.5 206.9L351.0 217.5L351.5 232.5L352.0 246.1L352.5 255.4L353.0 260.3L353.5 262.3L354.0 263.1L354.5 263.2L355.0 263.3L356.5 263.3L357.0 263.2L357.5 262.9L358.0 262.0L358.5 259.8L359.0 255.0L359.5 247.2L360.0 237.5L360.5 229.1L361.0 225.7L361.5 229.1L362.0 237.5L362.5 247.2L363.0 255.0L363.5 259.8L364.0 262.0L364.5 262.9L365.0 263.2L365.5 263.3L387.5 263.3L388.0 263.1L388.5 262.5L389.0 261.1L389.5 257.9L390.0 252.4L390.5 245.1L391.0 238.3L391.5 234.7L392.0 236.3L392.5 242.2L393.0 249.6L393.5 256.0L394.0 260.0L394.5 261.8L395.0 261.9L395.5 260.5L396.0 257.5L396.5 252.9L397.0 247.8L397.5 244.3L398.0 243.9L398.5 246.9L399.0 251.9L399.5 256.7L400.0 260.1L400.5 262.0L401.0 262.9L401.5 263.2L402.0 263.3L419.5 263.3L420.0 263.2L420.5 262.8L421.0 261.6L421.5 258.6L422.0 252.6L422.5 243.4L423.0 232.5L423.5 224.0L424.0 221.7L424.5 226.8L425.0 236.8L425.5 247.4L426.0 255.4L426.5 259.9L427.0 261.7L427.5 261.5L428.0 259.6L428.5 256.0L429.0 251.1L429.5 246.5L430.0 244.1L430.5 245.1L431.0 249.1L431.5 254.1L432.0 258.3L432.5 260.8L433.0 261.3L433.5 259.7L434.0 255.3L434.5 247.9L435.0 238.6L435.5 230.5L436.0 227.3L436.5 230.5L437.0 238.6L437.5 247.9L438.0 255.4L438.5 259.9L439.0 262.1L439.5 262.9L440.0 263.2L440.5 263.3L456.5 263.3L457.0 263.1L457.5 262.5L458.0 260.8L458.5 257.0L459.0 250.2L459.5 240.6L460.0 230.8L460.5 224.8L461.0 225.5L461.5 232.6L462.0 242.7L462.5 251.8L463.0 258.0L463.5 261.3L464.0 262.7L464.5 263.1L465.0 263.3L474.0 263.3L474.5 263.2L475.0 263.1L475.5 262.5L476.0 260.9L476.5 257.4L477.0 251.4L477.5 243.5L478.0 236.0L478.5 232.1L479.0 233.8L479.5 240.3L480.0 248.4L480.5 255.3L481.0 259.8L481.5 262.0L482.0 262.9L482.5 263.2L483.0 263.3L525.5 263.3L526.0 263.1L526.5 262.7L527.0 261.6L527.5 259.3L528.0 255.2L528.5 249.8L529.0 244.6L529.5 242.0L530.0 243.2L530.5 247.5L531.0 253.1L531.5 257.8L532.0 260.9L532.5 262.4L533.0 263.0L533.5 263.2L534.0 263.3L546.0 263.3" stroke="#8cd67c"/>
<path d="M30.0 263.3L37.5 263.3L38.0 263.2L38.5 262.9L39.0 262.0L39.5 259.8L40.0 255.4L40.5 248.6L41.0 240.6L41.5 234.3L42.0 232.6L42.5 236.4L43.0 243.8L43.5 251.6L44.0 257.5L44.5 260.9L45.0 262.3L45.5 262.3L46.0 260.8L46.5 257.0L47.0 249.5L47.5 238.6L48.0 226.6L48.5 218.1L49.0 217.2L49.5 224.4L50.0 236.1L50.5 247.6L51.0 255.8L51.5 260.3L52.0 262.3L52.5 263.0L53.0 263.2L53.5 263.3L69.0 263.3L69.5 263.1L70.0 262.7L70.5 261.3L71.0 258.2L71.5 252.1L72.0 243.2L72.5 233.5L73.0 226.6L73.5 225.9L74.0 231.7L74.5 241.3L75.0 250.6L75.5 257.2L76.0 260.9L76.5 262.5L77.0 263.1L77.5 263.3L81.5 263.3L82.0 263.1L82.5 262.6L83.0 261.1L83.5 258.0L84.0 252.6L84.5 245.5L85.0 238.8L85.5 235.3L86.0 236.8L86.5 242.6L87.0 249.9L87.5 256.1L88.0 260.1L88.5 262.1L89.0 262.9L89.5 263.2L90.0 263.3L93.0 263.3L93.5 263.1L94.0 262.6L94.5 261.0L95.0 257.5L95.5 251.2L96.0 242.4L96.5 233.4L97.0 227.8L97.5 228.5L98.0 235.0L98.5 244.3L99.0 252.7L99.5 258.4L100.0 261.4L100.5 262.7L101.0 263.1L101.5 263.3L117.5 263.3L118.0 263.1L118.5 262.7L119.0 261.4L119.5 258.3L120.0 252.3L120.5 243.6L121.0 234.0L121.5 227.2L122.0 226.6L122.5 232.3L123.0 241.7L123.5 250.8L124.0 257.3L124.5 260.7L125.0 261.7L125.5 260.6L126.0 256.9L126.5 250.1L127.0 240.5L127.5 230.6L128.0 224.6L128.5 225.3L129.0 232.4L129.5 242.6L130.0 251.8L130.5 258.0L131.0 261.3L131.5 262.7L132.0 263.1L132.5 263.3L136.0 263.3L136.5 263.2L137.0 262.9L137.5 262.1L138.0 260.2L138.5 256.5L139.0 251.1L139.5 245.2L140.0 241.0L140.5 240.5L141.0 244.1L141.5 249.9L142.0 255.5L142.5 259.5L143.0 261.6L143.5 261.9L144.0 260.5L144.5 256.9L145.0 251.0L145.5 243.6L146.0 237.2L146.5 234.6L147.0 237.2L147.5 243.6L148.0 251.0L148.5 257.0L149.0 260.6L149.5 262.2L150.0 262.4L150.5 261.5L151.0 258.9L151.5 254.0L152.0 247.3L152.5 240.4L153.0 236.1L153.5 236.6L154.0 241.6L154.5 248.7L155.0 255.2L155.5 259.6L156.0 261.9L156.5 262.9L157.0 263.2L157.5 263.3L191.5 263.3L192.0 263.1L192.5 262.7L193.0 261.5L193.5 258.5L194.0 252.9L194.5 244.6L195.0 235.4L195.5 229.0L196.0 228.3L196.5 233.8L197.0 242.7L197.5 251.4L198.0 257.6L198.5 261.0L199.0 262.6L199.5 263.1L200.0 263.3L221.5 263.3L222.0 263.2L222.5 262.8L223.0 261.6L223.5 258.9L224.0 253.7L224.5 246.0L225.0 237.5L225.5 231.6L226.0 231.0L226.5 236.0L227.0 244.3L227.5 252.3L228.0 258.0L228.5 261.2L229.0 262.6L229.5 263.1L230.0 263.3L234.5 263.3L235.0 263.2L235.5 262.9L236.0 261.9L236.5 259.4L237.0 254.5L237.5 247.0L238.0 238.0L238.5 231.0L239.0 229.1L239.5 233.4L240.0 241.6L240.5 250.3L241.0 256.8L241.5 260.6L242.0 262.4L242.5 263.0L243.0 263.2L243.5 263.3L277.0 263.3L277.5 263.2L278.0 262.9L278.5 262.0L279.0 259.7L279.5 254.8L280.0 246.9L280.5 236.9L281.0 228.3L281.5 224.8L282.0 228.3L282.5 236.9L283.0 246.9L283.5 254.8L284.0 259.6L284.5 261.8L285.0 262.0L285.5 260.2L286.0 255.8L286.5 247.6L287.0 236.1L287.5 224.4L288.0 217.2L288.5 218.1L289.0 226.6L289.5 238.6L290.0 249.5L290.5 256.8L291.0 260.4L291.5 260.9L292.0 258.7L292.5 253.3L293.0 244.7L293.5 234.5L294.0 226.5L294.5 224.3L295.0 229.2L295.5 238.6L296.0 248.4L296.5 255.9L297.0 260.1L297.5 261.5L298.0 260.7L298.5 257.4L299.0 251.1L299.5 242.2L300.0 233.1L300.5 227.4L301.0 228.1L301.5 234.7L302.0 244.1L302.5 252.6L303.0 258.4L303.5 261.4L304.0 262.7L304.5 263.1L305.0 263.3L351.0 263.3L351.5 263.2L352.0 262.9L352.5 261.9L353.0 259.4L353.5 254.5L354.0 247.0L354.5 238.0L355.0 231.0L355.5 229.1L356.0 233.4L356.5 241.6L357.0 250.3L357.5 256.8L358.0 260.6L358.5 262.4L359.0 263.0L359.5 263.2L360.0 263.3L363.0 263.3L363.5 263.1L364.0 262.7L364.5 261.3L365.0 258.2L365.5 252.1L366.0 243.2L366.5 233.5L367.0 226.6L367.5 225.9L368.0 231.7L368.5 241.3L369.0 250.6L369.5 257.2L370.0 260.8L370.5 262.0L371.0 261.5L371.5 259.1L372.0 253.8L372.5 245.7L373.0 236.1L373.5 228.5L374.0 226.4L374.5 231.0L375.0 239.9L375.5 249.2L376.0 256.3L376.5 260.3L377.0 261.7L377.5 261.1L378.0 258.2L378.5 252.4L379.0 243.8L379.5 234.3L380.0 227.5L380.5 226.9L381.0 232.6L381.5 241.8L382.0 250.9L382.5 257.4L383.0 260.9L383.5 262.5L384.0 263.1L384.5 263.3L406.5 263.3L407.0 263.1L407.5 262.6L408.0 261.0L408.5 257.4L409.0 250.4L409.5 240.1L410.0 228.8L410.5 220.9L411.0 220.1L411.5 226.8L412.0 237.8L412.5 248.6L413.0 256.3L413.5 260.5L414.0 262.4L414.5 263.1L415.0 263.2L415.5 263.3L438.0 263.3L438.5 263.1L439.0 262.6L439.5 261.1L440.0 257.7L440.5 251.6L441.0 243.1L441.5 234.3L442.0 228.9L442.5 229.6L443.0 235.9L443.5 244.9L444.0 253.0L444.5 258.6L445.0 261.5L445.5 262.7L446.0 263.2L446.5 263.3L450.5 263.3L451.0 263.1L451.5 262.6L452.0 261.0L452.5 257.6L453.0 251.4L453.5 242.7L454.0 233.8L454.5 228.3L455.0 229.0L455.5 235.4L456.0 244.6L456.5 252.9L457.0 258.5L457.5 261.5L458.0 262.7L458.5 263.1L459.0 263.3L462.0 263.3L462.5 263.2L463.0 262.9L463.5 261.9L464.0 259.2L464.5 253.8L465.0 244.8L465.5 233.7L466.0 224.0L466.5 220.1L467.0 224.0L467.5 233.7L468.0 244.8L468.5 253.8L469.0 259.2L469.5 261.9L470.0 262.9L470.5 263.2L471.0 263.3L519.5 263.3L520.0 263.2L520.5 262.8L521.0 261.8L521.5 259.5L522.0 255.3L522.5 249.4L523.0 243.4L523.5 239.8L524.0 240.2L524.5 244.5L525.0 250.7L525.5 256.3L526.0 260.1L526.5 262.1L527.0 262.9L527.5 263.2L528.0 263.3L546.0 263.3" stroke="#e0907e"/>
<path d="M30.0 263.3L55.5 263.3L56.0 263.2L56.5 263.0L57.0 262.4L57.5 260.5L58.0 256.2L58.5 248.4L59.0 237.6L59.5 226.5L60.0 219.7L60.5 220.5L61.0 228.5L61.5 239.9L62.0 250.3L62.5 257.3L63.0 261.0L63.5 262.3L64.0 262.3L64.5 260.9L65.0 257.5L65.5 251.6L66.0 243.8L66.5 236.4L67.0 232.6L67.5 234.3L68.0 240.6L68.5 248.6L69.0 255.4L69.5 259.8L70.0 262.0L70.5 262.9L71.0 263.2L71.5 263.3L197.5 263.3L198.0 263.2L198.5 263.0L199.0 262.2L199.5 260.1L200.0 255.7L200.5 248.6L201.0 239.8L201.5 232.1L202.0 229.0L202.5 232.1L203.0 239.8L203.5 248.6L204.0 255.7L204.5 260.1L205.0 262.2L205.5 263.0L206.0 263.2L206.5 263.3L228.5 263.3L229.0 263.2L229.5 263.0L230.0 262.3L230.5 260.4L231.0 256.3L231.5 249.2L232.0 239.9L232.5 231.0L233.0 226.4L233.5 228.5L234.0 236.1L234.5 245.7L235.0 253.8L235.5 259.1L236.0 261.8L236.5 262.8L237.0 263.2L237.5 263.3L241.5 263.3L242.0 263.2L242.5 262.9L243.0 262.0L243.5 260.0L244.0 256.1L244.5 250.4L245.0 244.1L245.5 239.6L246.0 239.2L246.5 242.9L247.0 249.1L247.5 255.1L248.0 259.4L248.5 261.7L249.0 262.8L249.5 263.2L250.0 263.3L264.0 263.3L264.5 263.2L265.0 263.0L265.5 262.3L266.0 260.4L266.5 256.3L267.0 249.2L267.5 239.9L268.0 231.0L268.5 226.4L269.0 228.5L269.5 236.1L270.0 245.7L270.5 253.8L271.0 259.1L271.5 261.7L272.0 262.6L272.5 262.5L273.0 261.2L273.5 258.0L274.0 252.3L274.5 244.3L275.0 236.0L275.5 231.0L276.0 231.6L276.5 237.5L277.0 246.0L277.5 253.7L278.0 258.9L278.5 261.6L279.0 262.8L279.5 263.2L280.0 263.3L382.5 263.3L383.0 263.1L383.5 262.7L384.0 261.4L384.5 258.8L385.0 254.2L385.5 248.2L386.0 242.4L386.5 239.5L387.0 240.8L387.5 245.7L388.0 251.9L388.5 257.2L389.0 260.6L389.5 262.3L390.0 263.0L390.5 263.2L391.0 263.3L399.5 263.3L400.0 263.1L400.5 262.7L401.0 261.5L401.5 258.5L402.0 252.9L402.5 244.7L403.0 235.6L403.5 229.2L404.0 228.5L404.5 234.0L405.0 242.8L405.5 251.5L406.0 257.6L406.5 261.1L407.0 262.6L407.5 263.1L408.0 263.3L444.5 263.3L445.0 263.2L445.5 262.9L446.0 261.8L446.5 259.3L447.0 254.4L447.5 246.7L448.0 237.6L448.5 230.4L449.0 228.5L449.5 232.8L450.0 241.2L450.5 250.0L451.0 256.7L451.5 260.6L452.0 262.4L452.5 263.0L453.0 263.2L453.5 263.3L469.0 263.3L469.5 263.2L470.0 262.9L470.5 262.1L471.0 260.0L471.5 256.0L472.0 249.6L472.5 242.2L473.0 236.3L473.5 234.7L474.0 238.3L474.5 245.1L475.0 252.4L475.5 257.9L476.0 261.1L476.5 262.5L477.0 263.1L477.5 263.3L494.0 263.3L494.5 263.1L495.0 262.5L495.5 260.9L496.0 257.1L496.5 250.4L497.0 241.0L497.5 231.3L498.0 225.4L498.5 226.1L499.0 233.1L499.5 243.0L500.0 252.0L500.5 258.1L501.0 261.2L501.5 262.3L502.0 262.0L502.5 260.1L503.0 255.9L503.5 249.0L504.0 240.3L504.5 232.8L505.0 229.8L505.5 232.8L506.0 240.3L506.5 249.0L507.0 255.9L507.5 260.1L508.0 262.2L508.5 263.0L509.0 263.2L509.5 263.3L537.5 263.3L538.0 263.2L538.5 262.9L539.0 262.1L539.5 259.9L540.0 255.4L540.5 247.9L541.0 238.6L541.5 230.5L542.0 227.3L542.5 230.5L543.0 238.6L543.5 247.9L544.0 255.4L544.5 259.9L545.0 262.1L545.5 262.9L546.0 263.2" stroke="#6c6ce2"/>
<path d="M30.0 263.3L75.0 263.3L75.5 263.2L76.0 262.9L76.5 261.8L77.0 258.9L77.5 252.6L78.0 241.8L78.5 227.4L79.0 213.8L79.5 206.8L80.0 209.9L80.5 221.6L81.0 236.3L81.5 248.8L82.0 256.9L82.5 260.9L83.0 262.6L83.5 263.1L84.0 263.3L105.0 263.3L105.5 263.1L106.0 262.7L106.5 261.6L107.0 259.2L107.5 255.0L108.0 249.5L108.5 244.3L109.0 241.6L109.5 242.8L110.0 247.3L110.5 252.9L111.0 257.7L111.5 260.8L112.0 262.4L112.5 263.0L113.0 263.2L113.5 263.3L130.0 263.3L130.5 263.1L131.0 262.7L131.5 261.1L132.0 257.2L132.5 249.1L133.0 235.7L133.5 219.0L134.0 204.5L134.5 198.7L135.0 204.5L135.5 219.0L136.0 235.7L136.5 249.1L137.0 257.2L137.5 261.1L138.0 262.7L138.5 263.1L139.0 263.3L160.5 263.3L161.0 263.2L161.5 262.9L162.0 262.1L162.5 260.4L163.0 257.5L163.5 253.7L164.0 250.0L164.5 248.2L165.0 249.0L165.5 252.1L166.0 256.1L166.5 259.4L167.0 261.5L167.5 262.2L168.0 261.7L168.5 259.5L169.0 254.7L169.5 247.3L170.0 238.6L170.5 231.8L171.0 229.9L171.5 234.1L172.0 242.1L172.5 250.6L173.0 257.0L173.5 260.7L174.0 262.4L174.5 263.1L175.0 263.2L175.5 263.3L185.0 263.3L185.5 263.2L186.0 263.1L186.5 262.5L187.0 260.9L187.5 257.5L188.0 251.6L188.5 243.8L189.0 236.4L189.5 232.6L190.0 234.3L190.5 240.6L191.0 248.6L191.5 255.4L192.0 259.8L192.5 262.0L193.0 262.9L193.5 263.2L194.0 263.3L204.0 263.3L204.5 263.1L205.0 262.7L205.5 261.4L206.0 258.4L206.5 252.7L207.0 244.3L207.5 235.0L208.0 228.5L208.5 227.8L209.0 233.4L209.5 242.4L210.0 251.2L210.5 257.5L211.0 261.0L211.5 262.6L212.0 263.1L212.5 263.3L302.5 263.3L303.0 263.2L303.5 262.8L304.0 261.7L304.5 258.9L305.0 253.3L305.5 244.7L306.0 234.5L306.5 226.5L307.0 224.3L307.5 229.2L308.0 238.6L308.5 248.4L309.0 255.9L309.5 260.3L310.0 262.3L310.5 263.0L311.0 263.2L311.5 263.3L314.0 263.3L314.5 263.2L315.0 263.0L315.5 262.4L316.0 260.8L316.5 257.7L317.0 252.9L317.5 247.3L318.0 242.8L318.5 241.6L319.0 244.3L319.5 249.5L320.0 255.0L320.5 259.2L321.0 261.6L321.5 262.7L322.0 263.1L322.5 263.3L326.5 263.3L327.0 263.2L327.5 263.0L328.0 262.3L328.5 260.6L329.0 257.2L329.5 251.9L330.0 245.7L330.5 240.8L331.0 239.5L331.5 242.4L332.0 248.2L332.5 254.2L333.0 258.8L333.5 261.4L334.0 262.7L334.5 263.1L335.0 263.3L339.0 263.3L339.5 263.2L340.0 262.9L340.5 262.2L341.0 260.3L341.5 256.9L342.0 251.8L342.5 246.2L343.0 242.2L343.5 241.8L344.0 245.2L344.5 250.7L345.0 256.0L345.5 259.8L346.0 261.9L346.5 262.8L347.0 263.2L347.5 263.3L413.0 263.3L413.5 263.1L414.0 262.6L414.5 261.0L415.0 257.2L415.5 250.0L416.0 239.4L416.5 227.7L417.0 219.5L417.5 218.7L418.0 225.7L418.5 237.0L419.0 248.1L419.5 256.0L420.0 260.4L420.5 262.4L421.0 263.0L421.5 263.2L422.0 263.3L480.5 263.3L481.0 263.2L481.5 263.1L482.0 262.5L482.5 261.3L483.0 259.0L483.5 255.5L484.0 251.7L484.5 249.0L485.0 248.7L485.5 251.0L486.0 254.7L486.5 258.3L487.0 260.9L487.5 262.3L488.0 262.6L488.5 261.8L489.0 259.2L489.5 253.7L490.0 244.7L490.5 233.5L491.0 223.7L491.5 219.8L492.0 223.7L492.5 233.5L493.0 244.7L493.5 253.7L494.0 259.2L494.5 261.9L495.0 262.9L495.5 263.2L496.0 263.3L507.0 263.3L507.5 263.2L508.0 262.7L508.5 261.6L509.0 258.7L509.5 253.3L510.0 245.4L510.5 236.7L511.0 230.5L511.5 229.9L512.0 235.1L512.5 243.6L513.0 251.9L513.5 257.8L514.0 260.9L514.5 261.6L515.0 260.3L515.5 256.7L516.0 250.6L516.5 242.9L517.0 236.3L517.5 233.6L518.0 236.3L518.5 243.0L519.0 250.6L519.5 256.8L520.0 260.5L520.5 262.3L521.0 263.0L521.5 263.2L522.0 263.3L531.5 263.3L532.0 263.2L532.5 263.0L533.0 262.2L533.5 260.4L534.0 257.0L534.5 252.0L535.0 246.5L535.5 242.6L536.0 242.2L536.5 245.5L537.0 250.9L537.5 256.1L538.0 259.9L538.5 261.9L539.0 262.9L539.5 263.2L540.0 263.3L546.0 263.3" stroke="#4e4e4e"/>
</g>
<path d="M32 263.30H546.3" stroke="#3a3040" stroke-width="1.1"/>
<g clip-path="url(#tc)" font-family="Liberation Sans" font-size="4.8" font-weight="bold" text-anchor="middle">
<text x="31.7" y="184.35" fill="#88d890">A</text>
<text x="37.1" y="184.35" fill="#88d890">A</text>
<text x="43.1" y="184.35" fill="#e48c98">T</text>
<text x="50.0" y="184.35" fill="#e48c98">T</text>
<text x="55.2" y="184.35" fill="#88d890">A</text>
<text x="61.4" y="184.35" fill="#9c9ce0">C</text>
<text x="68.3" y="184.35" fill="#9c9ce0">C</text>
<text x="74.5" y="184.35" fill="#e48c98">T</text>
<text x="80.8" y="184.35" fill="#888888">G</text>
<text x="86.8" y="184.35" fill="#e48c98">T</text>
<text x="92.6" y="184.35" fill="#88d890">A</text>
<text x="98.4" y="184.35" fill="#e48c98">T</text>
<text x="104.5" y="184.35" fill="#88d890">A</text>
<text x="110.3" y="184.35" fill="#888888">G</text>
<text x="117.6" y="184.35" fill="#88d890">A</text>
<text x="123.0" y="184.35" fill="#e48c98">T</text>
<text x="129.4" y="184.35" fill="#e48c98">T</text>
<text x="135.7" y="184.35" fill="#888888">G</text>
<text x="141.5" y="184.35" fill="#e48c98">T</text>
<text x="147.7" y="184.35" fill="#e48c98">T</text>
<text x="154.4" y="184.35" fill="#e48c98">T</text>
<text x="159.6" y="184.35" fill="#88d890">A</text>
<text x="165.8" y="184.35" fill="#888888">G</text>
<text x="172.1" y="184.35" fill="#888888">G</text>
<text x="178.9" y="184.35" fill="#88d890">A</text>
<text x="184.9" y="184.35" fill="#88d890">A</text>
<text x="190.8" y="184.35" fill="#888888">G</text>
<text x="197.0" y="184.35" fill="#e48c98">T</text>
<text x="203.2" y="184.35" fill="#9c9ce0">C</text>
<text x="209.5" y="184.35" fill="#888888">G</text>
<text x="215.1" y="184.35" fill="#88d890">A</text>
<text x="220.9" y="184.35" fill="#88d890">A</text>
<text x="227.0" y="184.35" fill="#e48c98">T</text>
<text x="234.3" y="184.35" fill="#9c9ce0">C</text>
<text x="240.1" y="184.35" fill="#e48c98">T</text>
<text x="247.0" y="184.35" fill="#9c9ce0">C</text>
<text x="252.0" y="184.35" fill="#88d890">A</text>
<text x="257.8" y="184.35" fill="#88d890">A</text>
<text x="264.0" y="184.35" fill="#88d890">A</text>
<text x="269.8" y="184.35" fill="#9c9ce0">C</text>
<text x="276.9" y="184.35" fill="#9c9ce0">C</text>
<text x="282.7" y="184.35" fill="#e48c98">T</text>
<text x="289.4" y="184.35" fill="#e48c98">T</text>
<text x="295.6" y="184.35" fill="#e48c98">T</text>
<text x="301.9" y="184.35" fill="#e48c98">T</text>
<text x="308.1" y="184.35" fill="#888888">G</text>
<text x="314.3" y="184.35" fill="#88d890">A</text>
<text x="319.6" y="184.35" fill="#888888">G</text>
<text x="326.9" y="184.35" fill="#88d890">A</text>
<text x="332.1" y="184.35" fill="#888888">G</text>
<text x="338.9" y="184.35" fill="#88d890">A</text>
<text x="344.5" y="184.35" fill="#888888">G</text>
<text x="351.4" y="184.35" fill="#88d890">A</text>
<text x="356.6" y="184.35" fill="#e48c98">T</text>
<text x="362.2" y="184.35" fill="#88d890">A</text>
<text x="368.5" y="184.35" fill="#e48c98">T</text>
<text x="375.1" y="184.35" fill="#e48c98">T</text>
<text x="381.5" y="184.35" fill="#e48c98">T</text>
<text x="387.8" y="184.35" fill="#9c9ce0">C</text>
<text x="392.8" y="184.35" fill="#88d890">A</text>
<text x="399.0" y="184.35" fill="#88d890">A</text>
<text x="405.0" y="184.35" fill="#9c9ce0">C</text>
<text x="412.0" y="184.35" fill="#e48c98">T</text>
<text x="418.5" y="184.35" fill="#888888">G</text>
<text x="425.1" y="184.35" fill="#88d890">A</text>
<text x="431.3" y="184.35" fill="#88d890">A</text>
<text x="437.2" y="184.35" fill="#88d890">A</text>
<text x="443.4" y="184.35" fill="#e48c98">T</text>
<text x="450.1" y="184.35" fill="#9c9ce0">C</text>
<text x="455.9" y="184.35" fill="#e48c98">T</text>
<text x="461.9" y="184.35" fill="#88d890">A</text>
<text x="467.7" y="184.35" fill="#e48c98">T</text>
<text x="474.6" y="184.35" fill="#9c9ce0">C</text>
<text x="479.8" y="184.35" fill="#88d890">A</text>
<text x="486.0" y="184.35" fill="#888888">G</text>
<text x="492.7" y="184.35" fill="#888888">G</text>
<text x="499.4" y="184.35" fill="#9c9ce0">C</text>
<text x="506.2" y="184.35" fill="#9c9ce0">C</text>
<text x="512.5" y="184.35" fill="#888888">G</text>
<text x="518.7" y="184.35" fill="#888888">G</text>
<text x="524.9" y="184.35" fill="#e48c98">T</text>
<text x="530.8" y="184.35" fill="#88d890">A</text>
<text x="537.0" y="184.35" fill="#888888">G</text>
<text x="543.2" y="184.35" fill="#9c9ce0">C</text>
</g>
<g clip-path="url(#tc)" font-family="Liberation Sans" font-size="6" text-anchor="middle" fill="#585858" style="text-rendering:geometricPrecision">
<text x="33.1" y="192.10">9</text>
<text x="79.3" y="192.10">177</text>
<text x="127.9" y="192.10">185</text>
<text x="177.4" y="192.10">193</text>
<text x="225.5" y="192.10">201</text>
<text x="275.4" y="192.10">209</text>
<text x="325.4" y="192.10">217</text>
<text x="373.6" y="192.10">225</text>
<text x="423.6" y="192.10">233</text>
<text x="473.1" y="192.10">241</text>
<text x="523.4" y="192.10">249</text>
</g>
<rect x="65.3" y="184.70" width="17.4" height="1.6" fill="#000"/>
<rect x="121.0" y="184.40" width="16.3" height="1.6" fill="#000"/>
<rect x="138.2" y="186.60" width="17.3" height="1.6" fill="#000"/>
<rect x="177.3" y="184.40" width="14.5" height="1.6" fill="#000"/>
<rect x="489.6" y="185.50" width="18.6" height="1.6" fill="#000"/>
<rect x="528.3" y="185.50" width="16.4" height="1.6" fill="#000"/>
<g font-family="Liberation Sans" font-size="7.3" letter-spacing="0.6" fill="#6a6a6a" opacity="0.999">
<text x="6.8" y="351.90">0</text>
<text x="6.8" y="340.50">305</text>
<text x="6.8" y="329.10">610</text>
<text x="6.8" y="317.70">915</text>
<text x="6.8" y="306.30">1220</text>
<text x="6.8" y="294.90">1525</text>
</g>
<g clip-path="url(#tc)">
<rect x="28.7" y="322.2" width="6.1" height="29.6" fill="#ebfaf7"/>
<rect x="40.9" y="311.2" width="6.2" height="40.6" fill="#ebfaf7"/>
<rect x="61.0" y="308.3" width="12.8" height="43.5" fill="#fdf6f6"/>
<rect x="80.0" y="327.4" width="6.0" height="24.4" fill="#fdf6f6"/>
<rect x="86.0" y="321.2" width="12.1" height="30.6" fill="#ebfaf7"/>
<rect x="98.1" y="320.1" width="6.3" height="31.7" fill="#fdf6f6"/>
<rect x="117.4" y="322.8" width="6.5" height="29.0" fill="#fdf6f6"/>
<rect x="130.4" y="320.7" width="12.4" height="31.1" fill="#fdf6f6"/>
<rect x="142.8" y="313.3" width="18.7" height="38.5" fill="#ebfaf7"/>
<rect x="174.2" y="314.9" width="25.2" height="36.9" fill="#fdf6f6"/>
<rect x="199.4" y="300.4" width="12.3" height="51.4" fill="#ebfaf7"/>
<rect x="211.8" y="303.1" width="13.5" height="48.7" fill="#fdf6f6"/>
<rect x="231.7" y="320.7" width="12.5" height="31.1" fill="#fdf6f6"/>
<rect x="244.1" y="305.6" width="5.8" height="46.2" fill="#ebfaf7"/>
<rect x="256.6" y="302.9" width="20.6" height="48.9" fill="#fdf6f6"/>
<rect x="289.9" y="308.3" width="19.0" height="43.5" fill="#fdf6f6"/>
<rect x="308.9" y="316.6" width="6.0" height="35.2" fill="#ebfaf7"/>
<rect x="320.7" y="320.7" width="12.5" height="31.1" fill="#ebfaf7"/>
<rect x="333.2" y="320.1" width="7.0" height="31.7" fill="#fdf6f6"/>
<rect x="346.5" y="325.7" width="6.0" height="26.1" fill="#ebfaf7"/>
<rect x="352.5" y="313.9" width="6.6" height="37.9" fill="#fdf6f6"/>
<rect x="359.1" y="316.6" width="6.5" height="35.2" fill="#ebfaf7"/>
<rect x="365.6" y="313.3" width="6.2" height="38.5" fill="#fdf6f6"/>
<rect x="385.4" y="314.5" width="20.2" height="37.3" fill="#fdf6f6"/>
<rect x="418.2" y="321.6" width="12.6" height="30.2" fill="#ebfaf7"/>
<rect x="451.2" y="322.8" width="6.0" height="29.0" fill="#ebfaf7"/>
<rect x="463.6" y="309.7" width="6.5" height="42.1" fill="#fdf6f6"/>
<rect x="470.1" y="320.7" width="13.3" height="31.1" fill="#ebfaf7"/>
<rect x="483.4" y="319.3" width="6.4" height="32.5" fill="#fdf6f6"/>
<rect x="503.6" y="326.4" width="6.6" height="25.4" fill="#fdf6f6"/>
<rect x="516.9" y="321.2" width="13.4" height="30.6" fill="#fdf6f6"/>
</g>
<g clip-path="url(#tc)" fill="none" stroke-width="1" stroke-linejoin="round">
<path d="M30.0 342.7L30.5 336.1L31.0 329.3L31.5 325.1L32.0 325.6L32.5 330.5L33.0 337.5L33.5 343.8L34.0 348.1L34.5 350.4L35.0 351.4L35.5 351.7L36.0 351.8L39.5 351.8L40.0 351.7L40.5 351.4L41.0 350.5L41.5 348.2L42.0 343.4L42.5 335.5L43.0 325.7L43.5 317.1L44.0 313.7L44.5 317.1L45.0 325.7L45.5 335.5L46.0 343.4L46.5 348.2L47.0 350.5L47.5 351.4L48.0 351.7L48.5 351.8L84.5 351.8L85.0 351.7L85.5 351.5L86.0 350.8L86.5 349.0L87.0 345.6L87.5 340.2L88.0 333.8L88.5 328.8L89.0 327.5L89.5 330.5L90.0 336.4L90.5 342.5L91.0 347.1L91.5 349.6L92.0 350.0L92.5 348.4L93.0 344.6L93.5 338.4L94.0 331.1L94.5 325.3L95.0 323.8L95.5 327.3L96.0 334.0L96.5 341.1L97.0 346.5L97.5 349.6L98.0 351.1L98.5 351.6L99.0 351.8L141.0 351.8L141.5 351.7L142.0 351.5L142.5 350.6L143.0 348.5L143.5 344.1L144.0 336.9L144.5 328.0L145.0 320.1L145.5 317.0L146.0 320.1L146.5 328.0L147.0 336.9L147.5 344.1L148.0 348.5L148.5 350.4L149.0 350.5L149.5 348.9L150.0 345.0L150.5 338.1L151.0 329.0L151.5 320.4L152.0 315.9L152.5 317.9L153.0 325.3L153.5 334.6L154.0 342.6L154.5 347.6L155.0 349.9L155.5 350.0L156.0 348.1L156.5 343.8L157.0 336.9L157.5 328.8L158.0 322.3L158.5 320.6L159.0 324.5L159.5 332.0L160.0 339.9L160.5 345.9L161.0 349.4L161.5 351.0L162.0 351.6L162.5 351.7L163.0 351.8L197.5 351.8L198.0 351.7L198.5 351.3L199.0 350.2L199.5 347.2L200.0 341.0L200.5 330.9L201.0 318.3L201.5 307.3L202.0 302.9L202.5 307.3L203.0 318.3L203.5 330.9L204.0 341.0L204.5 347.1L205.0 349.6L205.5 349.6L206.0 347.2L206.5 342.0L207.0 334.2L207.5 325.7L208.0 319.6L208.5 319.0L209.0 324.1L209.5 332.5L210.0 340.6L210.5 346.5L211.0 349.7L211.5 351.1L212.0 351.6L212.5 351.8L242.5 351.8L243.0 351.6L243.5 351.1L244.0 349.5L244.5 345.9L245.0 339.0L245.5 328.7L246.0 317.5L246.5 309.6L247.0 308.8L247.5 315.5L248.0 326.4L248.5 337.1L249.0 344.8L249.5 349.0L250.0 350.9L250.5 351.6L251.0 351.7L251.5 351.8L307.5 351.8L308.0 351.7L308.5 351.4L309.0 350.4L309.5 348.1L310.0 343.4L310.5 336.2L311.0 327.7L311.5 321.0L312.0 319.2L312.5 323.3L313.0 331.1L313.5 339.4L314.0 345.6L314.5 349.3L315.0 350.9L315.5 351.6L316.0 351.7L316.5 351.8L319.5 351.8L320.0 351.6L320.5 351.2L321.0 350.2L321.5 347.9L322.0 343.9L322.5 338.6L323.0 333.6L323.5 331.0L324.0 332.1L324.5 336.4L325.0 341.8L325.5 346.4L326.0 349.3L326.5 350.5L327.0 350.1L327.5 347.9L328.0 343.4L328.5 336.7L329.0 329.3L329.5 324.2L330.0 323.6L330.5 328.0L331.0 335.2L331.5 342.2L332.0 347.2L332.5 350.0L333.0 351.2L333.5 351.6L334.0 351.8L345.0 351.8L345.5 351.7L346.0 351.3L346.5 350.3L347.0 348.0L347.5 343.9L348.0 338.1L348.5 332.2L349.0 328.6L349.5 329.0L350.0 333.3L350.5 339.3L351.0 344.9L351.5 348.6L352.0 350.6L352.5 351.4L353.0 351.7L353.5 351.8L358.0 351.8L358.5 351.7L359.0 351.5L359.5 350.7L360.0 348.7L360.5 344.6L361.0 337.8L361.5 329.4L362.0 322.0L362.5 319.1L363.0 322.0L363.5 329.4L364.0 337.8L364.5 344.6L365.0 348.7L365.5 350.7L366.0 351.5L366.5 351.7L367.0 351.8L416.5 351.8L417.0 351.7L417.5 351.3L418.0 350.4L418.5 348.1L419.0 343.7L419.5 337.2L420.0 330.1L420.5 325.0L421.0 324.5L421.5 328.8L422.0 335.7L422.5 342.5L423.0 347.3L423.5 350.0L424.0 350.9L424.5 350.5L425.0 348.8L425.5 345.0L426.0 339.2L426.5 332.3L427.0 326.9L427.5 325.4L428.0 328.7L428.5 335.0L429.0 341.7L429.5 346.8L430.0 349.7L430.5 351.1L431.0 351.6L431.5 351.8L450.0 351.8L450.5 351.6L451.0 351.1L451.5 349.7L452.0 346.8L452.5 341.7L453.0 335.0L453.5 328.7L454.0 325.4L454.5 326.9L455.0 332.3L455.5 339.2L456.0 345.0L456.5 348.8L457.0 350.7L457.5 351.5L458.0 351.7L458.5 351.8L469.0 351.8L469.5 351.7L470.0 351.4L470.5 350.6L471.0 348.6L471.5 344.5L472.0 338.2L472.5 330.7L473.0 324.9L473.5 323.3L474.0 326.8L474.5 333.7L475.0 340.9L475.5 346.4L476.0 349.6L476.5 350.9L477.0 351.1L477.5 350.4L478.0 348.4L478.5 344.6L479.0 339.4L479.5 334.0L480.0 330.7L480.5 331.1L481.0 335.0L481.5 340.5L482.0 345.5L482.5 348.9L483.0 350.7L483.5 351.5L484.0 351.7L484.5 351.8L546.0 351.8" stroke="#8cd67c"/>
<path d="M30.0 351.8L60.0 351.8L60.5 351.7L61.0 351.3L61.5 350.3L62.0 347.6L62.5 342.4L63.0 334.2L63.5 324.6L64.0 317.1L64.5 315.0L65.0 319.6L65.5 328.4L66.0 337.8L66.5 344.8L67.0 348.6L67.5 349.7L68.0 348.3L68.5 344.0L69.0 336.2L69.5 325.8L70.0 316.0L70.5 311.0L71.0 313.2L71.5 321.6L72.0 332.3L72.5 341.3L73.0 347.2L73.5 350.1L74.0 351.3L74.5 351.7L75.0 351.8L79.0 351.8L79.5 351.6L80.0 351.2L80.5 350.1L81.0 347.7L81.5 343.5L82.0 337.9L82.5 332.7L83.0 330.0L83.5 331.2L84.0 335.7L84.5 341.4L85.0 346.2L85.5 349.3L86.0 350.9L86.5 351.5L87.0 351.7L87.5 351.8L97.0 351.8L97.5 351.6L98.0 351.2L98.5 349.9L99.0 347.1L99.5 342.0L100.0 334.9L100.5 327.5L101.0 323.0L101.5 323.6L102.0 328.9L102.5 336.4L103.0 343.2L103.5 347.8L104.0 350.3L104.5 351.3L105.0 351.7L105.5 351.8L116.0 351.8L116.5 351.7L117.0 351.5L117.5 350.9L118.0 349.3L118.5 346.0L119.0 340.5L119.5 333.6L120.0 327.7L120.5 325.3L121.0 327.7L121.5 333.6L122.0 340.5L122.5 346.0L123.0 349.3L123.5 350.9L124.0 351.5L124.5 351.7L125.0 351.8L129.0 351.8L129.5 351.7L130.0 351.4L130.5 350.6L131.0 348.7L131.5 344.7L132.0 338.6L132.5 331.4L133.0 325.7L133.5 324.2L134.0 327.6L134.5 334.3L135.0 341.3L135.5 346.6L136.0 349.6L136.5 350.9L137.0 350.8L137.5 349.5L138.0 346.4L138.5 340.9L139.0 333.7L139.5 326.8L140.0 323.3L140.5 324.9L141.0 330.7L141.5 338.2L142.0 344.5L142.5 348.6L143.0 350.6L143.5 351.4L144.0 351.7L144.5 351.8L172.5 351.8L173.0 351.7L173.5 351.6L174.0 351.0L174.5 349.5L175.0 346.3L175.5 340.7L176.0 333.3L176.5 326.3L177.0 322.7L177.5 324.3L178.0 330.3L178.5 337.9L179.0 344.3L179.5 348.4L180.0 350.4L180.5 350.7L181.0 349.5L181.5 346.3L182.0 340.3L182.5 331.8L183.0 323.2L183.5 317.9L184.0 318.6L184.5 324.8L185.0 333.6L185.5 341.7L186.0 347.1L186.5 349.7L187.0 350.2L187.5 348.8L188.0 345.1L188.5 338.9L189.0 331.1L189.5 324.3L190.0 321.6L190.5 324.3L191.0 331.1L191.5 338.9L192.0 345.1L192.5 348.9L193.0 350.7L193.5 351.0L194.0 350.1L194.5 347.6L195.0 342.8L195.5 335.6L196.0 327.8L196.5 322.2L197.0 321.7L197.5 326.4L198.0 334.0L198.5 341.5L199.0 346.9L199.5 349.9L200.0 351.2L200.5 351.6L201.0 351.8L211.0 351.8L211.5 351.6L212.0 351.1L212.5 349.8L213.0 346.8L213.5 341.3L214.0 333.6L214.5 325.8L215.0 321.0L215.5 321.5L216.0 327.2L216.5 335.3L217.0 342.6L217.5 347.5L218.0 350.1L218.5 350.8L219.0 350.1L219.5 347.4L220.0 341.6L220.5 332.1L221.0 320.1L221.5 309.8L222.0 305.6L222.5 309.8L223.0 320.1L223.5 332.1L224.0 341.6L224.5 347.5L225.0 350.3L225.5 351.3L226.0 351.7L226.5 351.8L230.5 351.8L231.0 351.7L231.5 351.4L232.0 350.6L232.5 348.6L233.0 344.7L233.5 339.1L234.0 333.0L234.5 328.6L235.0 328.2L235.5 331.9L236.0 337.9L236.5 343.7L237.0 347.9L237.5 350.2L238.0 350.9L238.5 350.5L239.0 348.5L239.5 344.5L240.0 338.2L240.5 330.7L241.0 324.9L241.5 323.3L242.0 326.8L242.5 333.7L243.0 340.9L243.5 346.4L244.0 349.6L244.5 351.0L245.0 351.6L245.5 351.8L255.5 351.8L256.0 351.7L256.5 351.5L257.0 350.8L257.5 348.9L258.0 344.7L258.5 337.6L259.0 328.1L259.5 319.1L260.0 314.4L260.5 316.5L261.0 324.2L261.5 333.9L262.0 342.2L262.5 347.5L263.0 350.1L263.5 350.9L264.0 350.1L264.5 347.4L265.0 341.6L265.5 332.0L266.0 320.0L266.5 309.6L267.0 305.4L267.5 309.6L268.0 320.0L268.5 332.0L269.0 341.6L269.5 347.4L270.0 350.1L270.5 350.8L271.0 349.9L271.5 347.0L272.0 341.4L272.5 333.1L273.0 324.0L273.5 317.6L274.0 316.9L274.5 322.4L275.0 331.3L275.5 339.9L276.0 346.1L276.5 349.6L277.0 351.1L277.5 351.6L278.0 351.8L288.5 351.8L289.0 351.7L289.5 351.5L290.0 350.7L290.5 348.6L291.0 344.3L291.5 337.3L292.0 328.5L292.5 320.9L293.0 317.8L293.5 320.9L294.0 328.5L294.5 337.3L295.0 344.3L295.5 348.5L296.0 350.4L296.5 350.4L297.0 348.5L297.5 344.0L298.0 336.2L298.5 325.9L299.0 316.0L299.5 311.0L300.0 313.2L300.5 321.6L301.0 332.3L301.5 341.3L302.0 347.0L302.5 349.6L303.0 349.7L303.5 347.4L304.0 342.0L304.5 333.6L305.0 323.7L305.5 315.9L306.0 313.8L306.5 318.5L307.0 327.7L307.5 337.3L308.0 344.6L308.5 348.8L309.0 350.8L309.5 351.5L310.0 351.7L310.5 351.8L332.5 351.8L333.0 351.6L333.5 351.2L334.0 349.9L334.5 347.1L335.0 342.0L335.5 334.9L336.0 327.5L336.5 323.0L337.0 323.6L337.5 328.9L338.0 336.4L338.5 343.2L339.0 347.8L339.5 350.3L340.0 351.3L340.5 351.7L341.0 351.8L351.5 351.8L352.0 351.6L352.5 351.2L353.0 350.0L353.5 347.0L354.0 341.4L354.5 333.1L355.0 324.0L355.5 317.6L356.0 316.9L356.5 322.4L357.0 331.3L357.5 339.9L358.0 346.1L358.5 349.6L359.0 351.1L359.5 351.6L360.0 351.8L364.5 351.8L365.0 351.6L365.5 351.1L366.0 349.5L366.5 346.0L367.0 339.7L367.5 330.9L368.0 321.9L368.5 316.3L369.0 317.0L369.5 323.5L370.0 332.8L370.5 341.2L371.0 346.9L371.5 349.9L372.0 351.2L372.5 351.6L373.0 351.8L384.5 351.8L385.0 351.7L385.5 351.3L386.0 350.4L386.5 348.2L387.0 344.3L387.5 338.9L388.0 333.3L388.5 329.8L389.0 330.2L389.5 334.3L390.0 340.0L390.5 345.2L391.0 348.8L391.5 350.6L392.0 351.2L392.5 351.0L393.0 349.6L393.5 346.2L394.0 340.1L394.5 331.6L395.0 322.9L395.5 317.5L396.0 318.2L396.5 324.5L397.0 333.4L397.5 341.6L398.0 347.1L398.5 349.9L399.0 350.9L399.5 350.6L400.0 348.9L400.5 345.1L401.0 338.8L401.5 331.0L402.0 324.1L402.5 321.4L403.0 324.1L403.5 331.0L404.0 338.8L404.5 345.1L405.0 348.9L405.5 350.8L406.0 351.5L406.5 351.7L407.0 351.8L462.5 351.8L463.0 351.7L463.5 351.3L464.0 350.2L464.5 347.3L465.0 341.7L465.5 332.9L466.0 322.6L466.5 314.5L467.0 312.3L467.5 317.2L468.0 326.7L468.5 336.8L469.0 344.3L469.5 348.7L470.0 350.8L470.5 351.5L471.0 351.7L471.5 351.8L482.5 351.8L483.0 351.6L483.5 351.2L484.0 349.9L484.5 347.0L485.0 341.7L485.5 334.4L486.0 326.9L486.5 322.3L487.0 322.8L487.5 328.2L488.0 336.0L488.5 343.0L489.0 347.7L489.5 350.3L490.0 351.3L490.5 351.7L491.0 351.8L502.5 351.8L503.0 351.7L503.5 351.3L504.0 350.3L504.5 348.1L505.0 344.1L505.5 338.5L506.0 332.8L506.5 329.2L507.0 329.7L507.5 333.8L508.0 339.7L508.5 345.1L509.0 348.7L509.5 350.6L510.0 351.4L510.5 351.7L511.0 351.8L515.5 351.8L516.0 351.7L516.5 351.5L517.0 350.9L517.5 349.2L518.0 345.8L518.5 340.2L519.0 333.2L519.5 327.1L520.0 324.7L520.5 327.1L521.0 333.2L521.5 340.2L522.0 345.8L522.5 349.2L523.0 350.8L523.5 351.2L524.0 350.6L524.5 348.6L525.0 344.6L525.5 338.4L526.0 331.1L526.5 325.3L527.0 323.8L527.5 327.3L528.0 334.0L528.5 341.1L529.0 346.5L529.5 349.6L530.0 351.1L530.5 351.6L531.0 351.8L546.0 351.8" stroke="#e0907e"/>
<path d="M30.0 351.8L33.5 351.8L34.0 351.6L34.5 351.2L35.0 349.9L35.5 346.9L36.0 341.2L36.5 332.8L37.0 323.5L37.5 317.0L38.0 316.3L38.5 321.9L39.0 330.9L39.5 339.7L40.0 346.0L40.5 349.5L41.0 351.1L41.5 351.6L42.0 351.8L46.0 351.8L46.5 351.6L47.0 351.0L47.5 349.5L48.0 345.9L48.5 339.4L49.0 330.4L49.5 321.1L50.0 315.5L50.5 316.1L51.0 322.8L51.5 332.3L52.0 341.0L52.5 346.8L53.0 349.9L53.5 351.1L54.0 351.4L54.5 350.8L55.0 349.0L55.5 345.4L56.0 339.3L56.5 331.8L57.0 325.2L57.5 322.6L58.0 325.2L58.5 331.8L59.0 339.3L59.5 345.4L60.0 349.1L60.5 350.8L61.0 351.5L61.5 351.7L62.0 351.8L248.5 351.8L249.0 351.7L249.5 351.5L250.0 350.7L250.5 348.7L251.0 344.5L251.5 337.6L252.0 329.0L252.5 321.5L253.0 318.5L253.5 321.5L254.0 329.0L254.5 337.6L255.0 344.5L255.5 348.7L256.0 350.7L256.5 351.5L257.0 351.7L257.5 351.8L276.0 351.8L276.5 351.7L277.0 351.5L277.5 350.8L278.0 349.0L278.5 345.1L279.0 338.9L279.5 331.1L280.0 324.3L280.5 321.6L281.0 324.3L281.5 331.1L282.0 338.9L282.5 345.1L283.0 348.8L283.5 350.2L284.0 349.8L284.5 347.5L285.0 342.9L285.5 336.4L286.0 329.8L286.5 325.7L287.0 326.2L287.5 331.0L288.0 337.8L288.5 344.0L289.0 348.2L289.5 350.4L290.0 351.4L290.5 351.7L291.0 351.8L313.5 351.8L314.0 351.7L314.5 351.3L315.0 350.1L315.5 347.3L316.0 342.0L316.5 334.2L317.0 325.7L317.5 319.6L318.0 319.0L318.5 324.1L319.0 332.5L319.5 340.6L320.0 346.5L320.5 349.7L321.0 351.1L321.5 351.6L322.0 351.8L339.5 351.8L340.0 351.7L340.5 351.3L341.0 350.2L341.5 347.6L342.0 342.6L342.5 335.3L343.0 327.2L343.5 321.5L344.0 321.0L344.5 325.8L345.0 333.6L345.5 341.3L346.0 346.8L346.5 349.8L347.0 351.1L347.5 351.6L348.0 351.8L404.5 351.8L405.0 351.7L405.5 351.4L406.0 350.5L406.5 348.3L407.0 343.8L407.5 336.9L408.0 328.8L408.5 322.3L409.0 320.6L409.5 324.5L410.0 332.0L410.5 339.9L411.0 345.9L411.5 349.3L412.0 350.8L412.5 350.8L413.0 349.6L413.5 346.6L414.0 341.3L414.5 334.3L415.0 327.6L415.5 324.2L416.0 325.7L416.5 331.4L417.0 338.6L417.5 344.7L418.0 348.7L418.5 350.6L419.0 351.4L419.5 351.7L420.0 351.8L430.0 351.8L430.5 351.7L431.0 351.3L431.5 350.2L432.0 347.5L432.5 342.4L433.0 335.0L433.5 326.8L434.0 321.0L434.5 320.4L435.0 325.3L435.5 333.3L436.0 341.1L436.5 346.7L437.0 349.8L437.5 351.1L438.0 351.3L438.5 350.7L439.0 348.8L439.5 344.5L440.0 337.2L440.5 327.4L441.0 318.2L441.5 313.4L442.0 315.6L442.5 323.5L443.0 333.4L443.5 342.0L444.0 347.4L444.5 350.1L445.0 351.0L445.5 350.6L446.0 348.9L446.5 345.4L447.0 339.9L447.5 333.4L448.0 328.3L448.5 326.9L449.0 330.0L449.5 336.0L450.0 342.3L450.5 347.1L451.0 349.9L451.5 351.1L452.0 351.6L452.5 351.8L456.0 351.8L456.5 351.7L457.0 351.4L457.5 350.5L458.0 348.3L458.5 344.1L459.0 338.0L459.5 331.3L460.0 326.6L460.5 326.1L461.0 330.1L461.5 336.7L462.0 343.0L462.5 347.6L463.0 350.1L463.5 351.3L464.0 351.7L464.5 351.8L540.0 351.8L540.5 351.7L541.0 351.5L541.5 351.0L542.0 349.8L542.5 347.8L543.0 345.2L543.5 342.6L544.0 341.3L544.5 341.9L545.0 344.1L545.5 346.8L546.0 349.1" stroke="#6c6ce2"/>
<path d="M30.0 351.8L72.5 351.8L73.0 351.6L73.5 351.1L74.0 349.6L74.5 345.9L75.0 338.5L75.5 327.0L76.0 313.5L76.5 302.9L77.0 300.0L77.5 306.4L78.0 318.9L78.5 332.0L79.0 342.0L79.5 347.8L80.0 350.4L80.5 351.4L81.0 351.7L81.5 351.8L103.0 351.8L103.5 351.7L104.0 351.4L104.5 350.3L105.0 347.4L105.5 341.2L106.0 330.4L106.5 316.2L107.0 302.8L107.5 295.8L108.0 298.9L108.5 310.4L109.0 325.0L109.5 337.4L110.0 345.4L110.5 349.4L111.0 350.7L111.5 350.4L112.0 348.6L112.5 344.9L113.0 339.3L113.5 333.3L114.0 329.0L114.5 328.6L115.0 332.2L115.5 338.1L116.0 343.9L116.5 348.0L117.0 350.3L117.5 351.3L118.0 351.7L118.5 351.8L123.0 351.8L123.5 351.7L124.0 351.2L124.5 349.9L125.0 346.7L125.5 340.3L126.0 330.4L126.5 318.7L127.0 309.4L127.5 307.0L128.0 312.5L128.5 323.3L129.0 334.7L129.5 343.3L130.0 348.3L130.5 350.6L131.0 351.5L131.5 351.7L132.0 351.8L160.0 351.8L160.5 351.7L161.0 351.6L161.5 351.0L162.0 349.3L162.5 345.8L163.0 339.7L163.5 331.6L164.0 324.0L164.5 320.0L165.0 321.8L165.5 328.3L166.0 336.6L166.5 343.6L167.0 348.1L167.5 350.3L168.0 350.7L168.5 349.4L169.0 345.9L169.5 339.0L170.0 328.7L170.5 317.5L171.0 309.6L171.5 308.8L172.0 315.5L172.5 326.4L173.0 337.1L173.5 344.8L174.0 349.0L174.5 350.9L175.0 351.6L175.5 351.7L176.0 351.8L224.0 351.8L224.5 351.7L225.0 351.3L225.5 350.2L226.0 347.2L226.5 340.9L227.0 330.7L227.5 318.0L228.0 306.9L228.5 302.5L229.0 306.9L229.5 318.0L230.0 330.7L230.5 340.9L231.0 347.2L231.5 350.2L232.0 351.3L232.5 351.7L233.0 351.8L370.5 351.8L371.0 351.7L371.5 351.3L372.0 350.3L372.5 347.7L373.0 342.6L373.5 334.6L374.0 325.3L374.5 317.9L375.0 315.9L375.5 320.4L376.0 329.0L376.5 338.1L377.0 345.0L377.5 349.0L378.0 350.8L378.5 351.4L379.0 351.1L379.5 350.0L380.0 347.2L380.5 342.2L381.0 335.2L381.5 328.0L382.0 323.6L382.5 324.2L383.0 329.3L383.5 336.7L384.0 343.4L384.5 347.9L385.0 350.3L385.5 351.3L386.0 351.7L386.5 351.8L488.5 351.8L489.0 351.7L489.5 351.3L490.0 350.2L490.5 347.2L491.0 341.0L491.5 330.9L492.0 318.3L492.5 307.3L493.0 302.9L493.5 307.3L494.0 318.3L494.5 330.9L495.0 341.0L495.5 347.2L496.0 350.2L496.5 351.3L497.0 351.5L497.5 351.0L498.0 349.6L498.5 346.8L499.0 342.0L499.5 336.1L500.0 331.0L500.5 328.9L501.0 331.0L501.5 336.1L502.0 342.0L502.5 346.8L503.0 349.6L503.5 351.0L504.0 351.6L504.5 351.7L505.0 351.8L509.5 351.8L510.0 351.6L510.5 351.1L511.0 349.6L511.5 346.2L512.0 339.5L512.5 329.8L513.0 319.1L513.5 311.5L514.0 310.7L514.5 317.2L515.0 327.6L515.5 337.8L516.0 345.1L516.5 349.2L517.0 350.9L517.5 351.6L518.0 351.7L518.5 351.8L529.5 351.8L530.0 351.6L530.5 351.0L531.0 349.4L531.5 345.6L532.0 338.9L532.5 329.5L533.0 319.8L533.5 313.9L534.0 314.6L534.5 321.6L535.0 331.5L535.5 340.5L536.0 346.6L536.5 349.7L537.0 350.9L537.5 350.6L538.0 349.0L538.5 345.7L539.0 340.4L539.5 334.1L540.0 329.2L540.5 327.9L541.0 330.9L541.5 336.6L542.0 342.7L542.5 347.3L543.0 349.9L543.5 351.2L544.0 351.6L544.5 351.8L546.0 351.8" stroke="#4e4e4e"/>
</g>
<path d="M32 351.80H546.3" stroke="#383040" stroke-width="1.1"/>
<g clip-path="url(#tc)" font-family="Liberation Sans" font-size="4.8" font-weight="bold" text-anchor="middle">
<text x="32.9" y="272.65" fill="#88d890">A</text>
<text x="39.0" y="272.65" fill="#9c9ce0">C</text>
<text x="45.2" y="272.65" fill="#88d890">A</text>
<text x="51.4" y="272.65" fill="#9c9ce0">C</text>
<text x="58.7" y="272.65" fill="#9c9ce0">C</text>
<text x="65.6" y="272.65" fill="#e48c98">T</text>
<text x="71.8" y="272.65" fill="#e48c98">T</text>
<text x="78.1" y="272.65" fill="#888888">G</text>
<text x="84.3" y="272.65" fill="#e48c98">T</text>
<text x="90.1" y="272.65" fill="#88d890">A</text>
<text x="96.1" y="272.65" fill="#88d890">A</text>
<text x="102.4" y="272.65" fill="#e48c98">T</text>
<text x="108.8" y="272.65" fill="#888888">G</text>
<text x="115.5" y="272.65" fill="#888888">G</text>
<text x="121.7" y="272.65" fill="#e48c98">T</text>
<text x="128.6" y="272.65" fill="#888888">G</text>
<text x="134.6" y="272.65" fill="#e48c98">T</text>
<text x="141.3" y="272.65" fill="#e48c98">T</text>
<text x="146.7" y="272.65" fill="#88d890">A</text>
<text x="153.3" y="272.65" fill="#88d890">A</text>
<text x="159.6" y="272.65" fill="#88d890">A</text>
<text x="165.8" y="272.65" fill="#888888">G</text>
<text x="172.5" y="272.65" fill="#888888">G</text>
<text x="178.3" y="272.65" fill="#e48c98">T</text>
<text x="184.9" y="272.65" fill="#e48c98">T</text>
<text x="191.2" y="272.65" fill="#e48c98">T</text>
<text x="198.0" y="272.65" fill="#e48c98">T</text>
<text x="203.2" y="272.65" fill="#88d890">A</text>
<text x="209.5" y="272.65" fill="#88d890">A</text>
<text x="216.4" y="272.65" fill="#e48c98">T</text>
<text x="223.2" y="272.65" fill="#e48c98">T</text>
<text x="229.7" y="272.65" fill="#888888">G</text>
<text x="236.0" y="272.65" fill="#e48c98">T</text>
<text x="242.6" y="272.65" fill="#e48c98">T</text>
<text x="248.0" y="272.65" fill="#88d890">A</text>
<text x="254.2" y="272.65" fill="#9c9ce0">C</text>
<text x="261.3" y="272.65" fill="#e48c98">T</text>
<text x="268.2" y="272.65" fill="#e48c98">T</text>
<text x="275.0" y="272.65" fill="#e48c98">T</text>
<text x="281.7" y="272.65" fill="#9c9ce0">C</text>
<text x="287.9" y="272.65" fill="#9c9ce0">C</text>
<text x="294.2" y="272.65" fill="#e48c98">T</text>
<text x="300.8" y="272.65" fill="#e48c98">T</text>
<text x="307.1" y="272.65" fill="#e48c98">T</text>
<text x="313.1" y="272.65" fill="#88d890">A</text>
<text x="319.0" y="272.65" fill="#9c9ce0">C</text>
<text x="324.8" y="272.65" fill="#88d890">A</text>
<text x="331.0" y="272.65" fill="#88d890">A</text>
<text x="337.9" y="272.65" fill="#e48c98">T</text>
<text x="345.0" y="272.65" fill="#9c9ce0">C</text>
<text x="350.4" y="272.65" fill="#88d890">A</text>
<text x="357.0" y="272.65" fill="#e48c98">T</text>
<text x="363.7" y="272.65" fill="#88d890">A</text>
<text x="369.9" y="272.65" fill="#e48c98">T</text>
<text x="376.1" y="272.65" fill="#888888">G</text>
<text x="383.4" y="272.65" fill="#888888">G</text>
<text x="389.9" y="272.65" fill="#e48c98">T</text>
<text x="396.9" y="272.65" fill="#e48c98">T</text>
<text x="403.7" y="272.65" fill="#e48c98">T</text>
<text x="410.1" y="272.65" fill="#9c9ce0">C</text>
<text x="416.8" y="272.65" fill="#9c9ce0">C</text>
<text x="422.0" y="272.65" fill="#88d890">A</text>
<text x="428.6" y="272.65" fill="#88d890">A</text>
<text x="435.5" y="272.65" fill="#9c9ce0">C</text>
<text x="442.8" y="272.65" fill="#9c9ce0">C</text>
<text x="449.6" y="272.65" fill="#9c9ce0">C</text>
<text x="455.3" y="272.65" fill="#88d890">A</text>
<text x="461.5" y="272.65" fill="#9c9ce0">C</text>
<text x="468.1" y="272.65" fill="#e48c98">T</text>
<text x="474.6" y="272.65" fill="#88d890">A</text>
<text x="481.4" y="272.65" fill="#88d890">A</text>
<text x="487.9" y="272.65" fill="#e48c98">T</text>
<text x="494.2" y="272.65" fill="#888888">G</text>
<text x="501.7" y="272.65" fill="#888888">G</text>
<text x="507.9" y="272.65" fill="#e48c98">T</text>
<text x="515.0" y="272.65" fill="#888888">G</text>
<text x="521.2" y="272.65" fill="#e48c98">T</text>
<text x="528.1" y="272.65" fill="#e48c98">T</text>
<text x="534.9" y="272.65" fill="#888888">G</text>
<text x="541.6" y="272.65" fill="#888888">G</text>
</g>
<g clip-path="url(#tc)" font-family="Liberation Sans" font-size="6" text-anchor="middle" fill="#585858" style="text-rendering:geometricPrecision">
<text x="57.2" y="280.40">257</text>
<text x="107.3" y="280.40">265</text>
<text x="158.1" y="280.40">273</text>
<text x="208.0" y="280.40">281</text>
<text x="259.8" y="280.40">289</text>
<text x="311.6" y="280.40">297</text>
<text x="362.2" y="280.40">305</text>
<text x="415.3" y="280.40">313</text>
<text x="466.6" y="280.40">321</text>
<text x="519.7" y="280.40">329</text>
</g>
<rect x="29.8" y="273.30" width="17.3" height="1.6" fill="#000"/>
<rect x="143.6" y="273.30" width="17.3" height="1.6" fill="#000"/>
<rect x="162.7" y="276.00" width="17.3" height="1.6" fill="#000"/>
<rect x="258.9" y="273.30" width="18.6" height="1.6" fill="#000"/>
<rect x="315.9" y="273.30" width="17.3" height="1.6" fill="#000"/>
<rect x="335.0" y="275.70" width="18.2" height="1.6" fill="#000"/>
<rect x="432.5" y="273.30" width="20.0" height="1.6" fill="#000"/>
<rect x="471.6" y="273.30" width="19.1" height="1.6" fill="#000"/>
</svg></body></html>
